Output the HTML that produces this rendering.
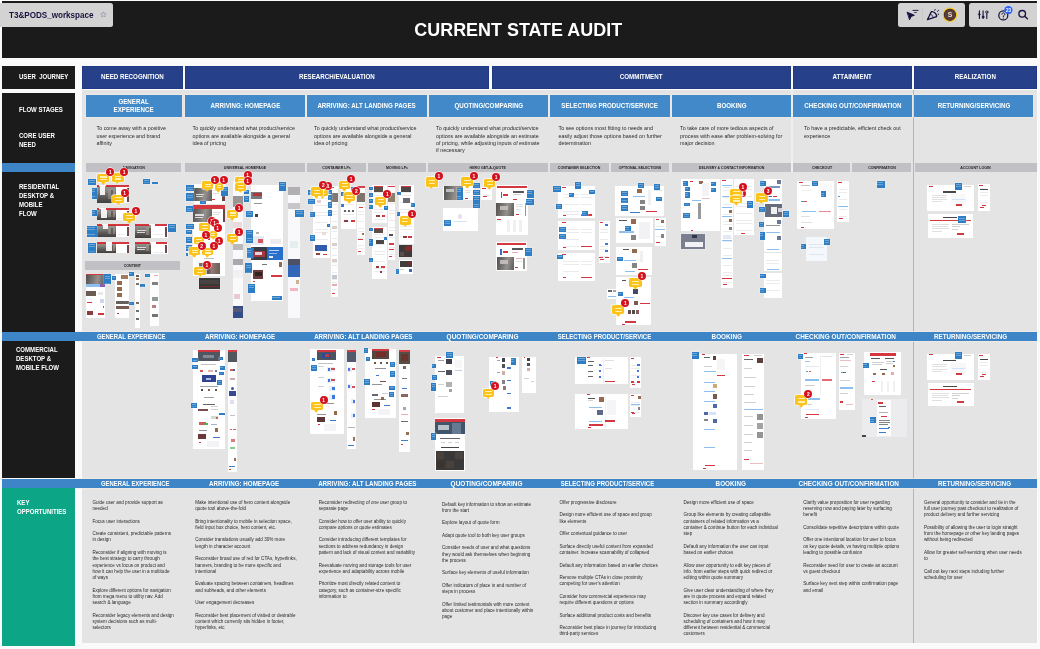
<!DOCTYPE html>
<html lang="en"><head><meta charset="utf-8"><title>Current State Audit</title>
<style>
html,body{margin:0;padding:0;background:#fbfafa;}
body{width:1040px;height:649px;overflow:hidden;font-family:"Liberation Sans",sans-serif;}
#root{position:relative;width:1040px;height:649px;overflow:hidden;background:#fbfafa;}
#root div,#root span.a{position:absolute;box-sizing:border-box;}
.c{display:flex;align-items:center;justify-content:center;text-align:center;white-space:nowrap;}
.h1{color:#fff;font-weight:bold;font-size:7px;line-height:8px;}
.h1 span{display:inline-block;transform:scaleX(.885);}
.h2{color:#fff;font-weight:bold;font-size:7px;line-height:7.6px;}
.h2 span{display:inline-block;transform:scaleX(.885);}
.band{color:#fff;font-weight:bold;font-size:6.6px;line-height:9px;}
.band span{display:inline-block;transform:scaleX(.9);}
.sub{color:#1d1d1f;font-weight:bold;font-size:3.9px;line-height:9px;}
.sub span{display:inline-block;transform:scaleX(.92);}
.lab{color:#fff;font-weight:bold;font-size:6.5px;line-height:9.15px;white-space:nowrap;transform-origin:0 0;transform:scaleX(.93);}
.need{color:#2a2a2a;font-size:5.36px;line-height:7.3px;white-space:nowrap;}
.opp{color:#2a2a2a;font-size:4.6px;line-height:6.27px;white-space:nowrap;}
.th{background:#fff;overflow:hidden;}
.th>div{opacity:.9;}
.nt{background-color:#2e7ec6;box-shadow:0 0 0 .35px rgba(255,255,255,.55);background-image:repeating-linear-gradient(180deg,rgba(255,255,255,0) 0,rgba(255,255,255,0) 1.1px,rgba(255,255,255,.3) 1.1px,rgba(255,255,255,.3) 1.7px,rgba(255,255,255,0) 1.7px,rgba(255,255,255,0) 2.3px);background-size:calc(100% - 1.6px) calc(100% - 1.4px);background-position:.8px .2px;background-repeat:no-repeat;}
.bb{background:#fcc41b;border-radius:1.6px;box-shadow:0 0 0 .8px rgba(255,255,255,.75);}
.bb i{position:absolute;left:24%;right:20%;height:1.15px;background:#fff0b8;border-radius:.5px;}
.bb b{position:absolute;left:calc(50% - 1.5px);bottom:-1.15px;width:2.5px;height:2.5px;background:#fcc41b;transform:rotate(45deg);}
.bg{background:#d3121e;border-radius:50%;color:#fff;font-weight:bold;font-size:4.9px;line-height:9.5px;text-align:center;box-shadow:0 0 0 .7px rgba(255,255,255,.8);}
</style></head>
<body>
<div id="root">
<!-- frame -->
<div style="left:2.3px;top:1.0px;width:1035.0px;height:56.6px;background:#1b1b1b;"></div>
<div style="left:2.3px;top:66.2px;width:72.8px;height:22.4px;background:#1b1b1b;"></div>
<div style="left:2.3px;top:92.7px;width:72.8px;height:385.8px;background:#1b1b1b;"></div>
<div style="left:2.3px;top:162.8px;width:72.8px;height:9.2px;background:#3d85c6;"></div>
<div style="left:2.3px;top:488.0px;width:72.8px;height:157.8px;background:#0ca586;"></div>
<div class="c h1" style="left:82.2px;top:66.2px;width:100.5px;height:22.5px;background:#26418a;box-shadow:inset 0 0 0 .6px #1e3482;"><span>NEED RECOGNITION</span></div>
<div class="c h1" style="left:184.6px;top:66.2px;width:304.3px;height:22.5px;background:#26418a;box-shadow:inset 0 0 0 .6px #1e3482;"><span>RESEARCH/EVALUATION</span></div>
<div class="c h1" style="left:491.9px;top:66.2px;width:298.9px;height:22.5px;background:#26418a;box-shadow:inset 0 0 0 .6px #1e3482;"><span>COMMITMENT</span></div>
<div class="c h1" style="left:793.0px;top:66.2px;width:119.0px;height:22.5px;background:#26418a;box-shadow:inset 0 0 0 .6px #1e3482;"><span>ATTAINMENT</span></div>
<div class="c h1" style="left:914.0px;top:66.2px;width:123.2px;height:22.5px;background:#26418a;box-shadow:inset 0 0 0 .6px #1e3482;"><span>REALIZATION</span></div>
<div style="left:82.2px;top:90.4px;width:955.0px;height:552.6px;background:#e4e4e4;"></div>
<div style="left:791.0px;top:90.4px;width:1.8px;height:81.6px;background:#f0eeee;"></div>
<div style="left:913.0px;top:90.4px;width:1.3px;height:552.6px;background:#b4b4b6;"></div>
<div class="c h2" style="left:86.0px;top:94.9px;width:95.5px;height:22.3px;background:#4189c8;box-shadow:0 0 0 .6px #f3ece4;"><span>GENERAL<br>EXPERIENCE</span></div>
<div class="c h2" style="left:185.4px;top:94.9px;width:119.7px;height:22.3px;background:#4189c8;box-shadow:0 0 0 .6px #f3ece4;"><span>ARRIVING: HOMEPAGE</span></div>
<div class="c h2" style="left:307.2px;top:94.9px;width:119.4px;height:22.3px;background:#4189c8;box-shadow:0 0 0 .6px #f3ece4;"><span>ARRIVING: ALT LANDING PAGES</span></div>
<div class="c h2" style="left:428.9px;top:94.9px;width:119.3px;height:22.3px;background:#4189c8;box-shadow:0 0 0 .6px #f3ece4;"><span>QUOTING/COMPARING</span></div>
<div class="c h2" style="left:550.3px;top:94.9px;width:119.4px;height:22.3px;background:#4189c8;box-shadow:0 0 0 .6px #f3ece4;"><span>SELECTING PRODUCT/SERVICE</span></div>
<div class="c h2" style="left:671.8px;top:94.9px;width:119.0px;height:22.3px;background:#4189c8;box-shadow:0 0 0 .6px #f3ece4;"><span>BOOKING</span></div>
<div class="c h2" style="left:793.0px;top:94.9px;width:119.0px;height:22.3px;background:#4189c8;box-shadow:0 0 0 .6px #f3ece4;"><span>CHECKING OUT/CONFIRMATION</span></div>
<div class="c h2" style="left:914.3px;top:94.9px;width:119.1px;height:22.3px;background:#4189c8;box-shadow:0 0 0 .6px #f3ece4;"><span>RETURNING/SERVICING</span></div>
<div class="c sub" style="left:85.9px;top:162.8px;width:95.1px;height:9.0px;background:#c1c1c5;"><span>NAVIGATION</span></div>
<div class="c sub" style="left:184.5px;top:162.8px;width:120.0px;height:9.0px;background:#c1c1c5;"><span>UNIVERSAL HOMEPAGE</span></div>
<div class="c sub" style="left:306.9px;top:162.8px;width:59.1px;height:9.0px;background:#c1c1c5;"><span>CONTAINER LPs</span></div>
<div class="c sub" style="left:368.0px;top:162.8px;width:58.0px;height:9.0px;background:#c1c1c5;"><span>MOVING LPs</span></div>
<div class="c sub" style="left:428.4px;top:162.8px;width:119.4px;height:9.0px;background:#c1c1c5;"><span>HERO GET-A-QUOTE</span></div>
<div class="c sub" style="left:549.9px;top:162.8px;width:58.8px;height:9.0px;background:#c1c1c5;"><span>CONTAINER SELECTION</span></div>
<div class="c sub" style="left:610.8px;top:162.8px;width:58.0px;height:9.0px;background:#c1c1c5;"><span>OPTIONAL SELECTIONS</span></div>
<div class="c sub" style="left:671.7px;top:162.8px;width:119.0px;height:9.0px;background:#c1c1c5;"><span>DELIVERY &amp; CONTACT INFORMATION</span></div>
<div class="c sub" style="left:792.8px;top:162.8px;width:57.5px;height:9.0px;background:#c1c1c5;"><span>CHECKOUT</span></div>
<div class="c sub" style="left:852.3px;top:162.8px;width:58.9px;height:9.0px;background:#c1c1c5;"><span>CONFIRMATION</span></div>
<div class="c sub" style="left:914.5px;top:162.8px;width:122.5px;height:9.0px;background:#c1c1c5;"><span>ACCOUNT LOGIN</span></div>
<div class="c sub" style="left:85.0px;top:261.2px;width:94.9px;height:9.3px;background:#c1c1c5;"><span>CONTENT</span></div>
<div style="left:2.3px;top:331.8px;width:72.8px;height:9.2px;background:#3d85c6;"></div>
<div style="left:75.1px;top:331.8px;width:962.1px;height:9.2px;background:#3d85c6;box-shadow:0 -0.7px 0 #f3ece4,0 .7px 0 #f3ece4;"></div>
<div class="c band" style="left:51.2px;top:331.8px;width:160.0px;height:9.2px;"><span style="transform:scaleX(0.896)">GENERAL EXPERIENCE</span></div>
<div class="c band" style="left:160.6px;top:331.8px;width:160.0px;height:9.2px;"><span style="transform:scaleX(0.945)">ARRIVING: HOMEPAGE</span></div>
<div class="c band" style="left:283.4px;top:331.8px;width:160.0px;height:9.2px;"><span style="transform:scaleX(0.940)">ARRIVING: ALT LANDING PAGES</span></div>
<div class="c band" style="left:403.0px;top:331.8px;width:160.0px;height:9.2px;"><span style="transform:scaleX(0.983)">QUOTING/COMPARING</span></div>
<div class="c band" style="left:524.0px;top:331.8px;width:160.0px;height:9.2px;"><span style="transform:scaleX(0.910)">SELECTING PRODUCT/SERVICE</span></div>
<div class="c band" style="left:646.9px;top:331.8px;width:160.0px;height:9.2px;"><span style="transform:scaleX(0.961)">BOOKING</span></div>
<div class="c band" style="left:765.5px;top:331.8px;width:160.0px;height:9.2px;"><span style="transform:scaleX(0.970)">CHECKING OUT/CONFIRMATION</span></div>
<div class="c band" style="left:890.6px;top:331.8px;width:160.0px;height:9.2px;"><span style="transform:scaleX(0.949)">RETURNING/SERVICING</span></div>
<div style="left:2.3px;top:478.6px;width:72.8px;height:9.4px;background:#3d85c6;"></div>
<div style="left:75.1px;top:478.6px;width:962.1px;height:9.4px;background:#3d85c6;box-shadow:0 -0.7px 0 #f3ece4,0 .7px 0 #f3ece4;"></div>
<div class="c band" style="left:54.8px;top:478.6px;width:160.0px;height:9.4px;"><span style="transform:scaleX(0.896)">GENERAL EXPERIENCE</span></div>
<div class="c band" style="left:164.2px;top:478.6px;width:160.0px;height:9.4px;"><span style="transform:scaleX(0.945)">ARRIVING: HOMEPAGE</span></div>
<div class="c band" style="left:287.0px;top:478.6px;width:160.0px;height:9.4px;"><span style="transform:scaleX(0.940)">ARRIVING: ALT LANDING PAGES</span></div>
<div class="c band" style="left:406.6px;top:478.6px;width:160.0px;height:9.4px;"><span style="transform:scaleX(0.983)">QUOTING/COMPARING</span></div>
<div class="c band" style="left:527.6px;top:478.6px;width:160.0px;height:9.4px;"><span style="transform:scaleX(0.910)">SELECTING PRODUCT/SERVICE</span></div>
<div class="c band" style="left:650.5px;top:478.6px;width:160.0px;height:9.4px;"><span style="transform:scaleX(0.961)">BOOKING</span></div>
<div class="c band" style="left:769.1px;top:478.6px;width:160.0px;height:9.4px;"><span style="transform:scaleX(0.970)">CHECKING OUT/CONFIRMATION</span></div>
<div class="c band" style="left:894.2px;top:478.6px;width:160.0px;height:9.4px;"><span style="transform:scaleX(0.949)">RETURNING/SERVICING</span></div>
<div class="lab" style="left:19.1px;top:72.4px">USER&nbsp; JOURNEY</div>
<div class="lab" style="left:19.1px;top:104.6px">FLOW STAGES</div>
<div class="lab" style="left:19.1px;top:130.5px">CORE USER<br>NEED</div>
<div class="lab" style="left:19.1px;top:182px">RESIDENTIAL<br>DESKTOP &amp;<br>MOBILE<br>FLOW</div>
<div class="lab" style="left:16.2px;top:345px">COMMERCIAL<br>DESKTOP &amp;<br>MOBILE FLOW</div>
<div class="lab" style="left:16.5px;top:497.7px">KEY<br>OPPORTUNITIES</div>
<!-- header -->
<div class="c" style="left:318px;top:18px;width:400px;height:23px;color:#fff;font-weight:bold;font-size:19.2px;line-height:23px"><span style="display:inline-block;transform:scaleX(.934)">CURRENT STATE AUDIT</span></div>
<div style="left:0;top:2.8px;width:113.2px;height:23.8px;background:#d3d3d3;border-radius:0 2.5px 2.5px 0"></div>
<div style="left:9.2px;top:9.7px;font-weight:bold;font-size:8.35px;line-height:11px;color:#17123f;white-space:nowrap;transform-origin:0 0;transform:scaleX(.97)">T3&amp;PODS_workspace</div>
<svg class="a" style="position:absolute;left:99.8px;top:11.3px" width="6.8" height="6.8" viewBox="0 0 24 24"><path d="M12 2.6l2.9 6.2 6.7.8-5 4.6 1.4 6.7L12 17.5 6 20.9l1.4-6.7-5-4.6 6.7-.8z" fill="none" stroke="#8a8aa6" stroke-width="2.2" stroke-linejoin="round"/></svg>
<div style="left:897.9px;top:2.9px;width:67.2px;height:23.8px;background:#d2d2d2;border-radius:2.5px"></div>
<div style="left:969px;top:2.9px;width:71px;height:23.8px;background:#d2d2d2;border-radius:2.5px 0 0 2.5px"></div>
<div style="left:1037.3px;top:0;width:3px;height:60px;background:#fbfafa"></div>
<svg style="position:absolute;left:897px;top:0" width="143" height="30" viewBox="897 0 143 30">
<g fill="none" stroke="#17123f" stroke-width="1.2" stroke-linecap="round" stroke-linejoin="round">
<path d="M907.4 12.3l7 2.9-3.2 1.3-1.5 3z" fill="#17123f" stroke-width=".9"/>
<path d="M913 10.4h5.1" stroke-width=".95"/><path d="M914.6 12.5h1.7" stroke-width=".8"/>
<path d="M922.4 8.8v11.4" stroke="#c0c0c9" stroke-width=".7"/>
<path d="M931.4 11.6c2.4-.6 5.6 2.6 5.2 5l-9.2 3.1z" stroke-width="1.25"/>
<path d="M930.2 14.2c1.2 0 2.6 1.4 2.7 2.7" stroke-width=".8"/>
<path d="M934.7 10.3l.5-.9M937.6 11.4l.9-1.2M938.2 14.2h.5" stroke-width="1"/>
<path d="M979.4 10.9v7.6M983.1 10.9v7.6M986.8 13.5v5" stroke-width="1.1"/>
<path d="M979.4 13.3l1.1 1.2-1.1 1.2-1.1-1.2z" fill="#17123f" stroke-width=".5"/>
<circle cx="983.1" cy="17" r="1.05" fill="#17123f" stroke-width=".5"/>
<circle cx="986.8" cy="12.1" r="1.15" stroke-width=".9"/>
<circle cx="1003.3" cy="15.4" r="4.5" stroke-width="1.25"/>
<path d="M1001.9 14.2a1.45 1.45 0 1 1 2.2 1.3c-.6.3-.8.6-.8 1.1" stroke-width="1"/><path d="M1003.3 18v.1" stroke-width="1.1"/>
<circle cx="1022.2" cy="13.8" r="3.3" stroke-width="1.35"/>
<path d="M1024.7 16.3l2.7 2.4" stroke-width="1.4"/>
</g>
<circle cx="949.9" cy="14.8" r="7.2" fill="#f5c91c"/><circle cx="949.9" cy="14.8" r="6.1" fill="#2a1c3a"/><circle cx="949.9" cy="14.8" r="5.6" fill="#5a3c36"/>
<text x="949.9" y="17.2" font-family="Liberation Sans, sans-serif" font-size="6.8" font-weight="bold" fill="#e9dcd8" text-anchor="middle">S</text>
<circle cx="1008.4" cy="10.1" r="4.15" fill="#2b63f6"/>
<text x="1008.4" y="11.7" font-family="Liberation Sans, sans-serif" font-size="4.5" font-weight="bold" fill="#fff" text-anchor="middle">23</text>
</svg>
<!-- thumbnails -->
<div id="thumbs" style="left:0;top:0;width:1040px;height:649px;filter:blur(.55px)"><div class="th" style="left:96.9px;top:184.8px;width:32.2px;height:17.9px;background:#fff;"><div style="left:0.0px;top:1.2px;width:18.7px;height:16.7px;background:linear-gradient(180deg,#8f8c88 0%,#77746f 30%,#4d4a48 62%,#2c2a29 100%)"></div><div style="left:10.9px;top:3.9px;width:7.7px;height:10.0px;background:#a09d98;opacity:.55"></div><div style="left:14.2px;top:5.4px;width:1.9px;height:11.6px;background:#5a4a44;opacity:.7"></div><div style="left:2.9px;top:0.0px;width:5.5px;height:10.7px;background:#fff;"></div><div style="left:0.0px;top:0.3px;width:2.6px;height:2.0px;background:#d0212b;"></div><div style="left:8.7px;top:0.5px;width:23.5px;height:2.1px;background:#d0212b;"></div><div style="left:20.7px;top:5.0px;width:7.5px;height:11.9px;background-image:repeating-linear-gradient(180deg,rgba(0,0,0,0) 0,rgba(0,0,0,0) 1.6px,rgba(120,120,135,.16) 1.6px,rgba(120,120,135,.16) 2.2px,rgba(0,0,0,0) 2.2px,rgba(0,0,0,0) 3.4px);"></div><div style="left:29.9px;top:3.0px;width:1.9px;height:14.4px;background:#5e3638;"></div></div>
<div class="th" style="left:96.9px;top:207.9px;width:32.2px;height:12.1px;background:#fff;"><div style="left:0.0px;top:1.2px;width:18.7px;height:10.9px;background:linear-gradient(180deg,#8f8c88 0%,#77746f 30%,#4d4a48 62%,#2c2a29 100%)"></div><div style="left:10.9px;top:2.7px;width:7.7px;height:6.8px;background:#a09d98;opacity:.55"></div><div style="left:14.2px;top:3.6px;width:1.9px;height:7.9px;background:#5a4a44;opacity:.7"></div><div style="left:3.9px;top:0.0px;width:5.8px;height:9.7px;background:#fff;"></div><div style="left:0.0px;top:0.3px;width:2.6px;height:2.0px;background:#d0212b;"></div><div style="left:8.7px;top:0.5px;width:23.5px;height:2.1px;background:#d0212b;"></div><div style="left:20.7px;top:5.0px;width:7.5px;height:6.1px;background-image:repeating-linear-gradient(180deg,rgba(0,0,0,0) 0,rgba(0,0,0,0) 1.6px,rgba(120,120,135,.16) 1.6px,rgba(120,120,135,.16) 2.2px,rgba(0,0,0,0) 2.2px,rgba(0,0,0,0) 3.4px);"></div><div style="left:29.9px;top:3.0px;width:1.9px;height:8.6px;background:#5e3638;"></div></div>
<div class="th" style="left:96.9px;top:223.6px;width:32.2px;height:13.4px;background:#fff;"><div style="left:0.0px;top:1.2px;width:18.7px;height:12.2px;background:linear-gradient(180deg,#8f8c88 0%,#77746f 30%,#4d4a48 62%,#2c2a29 100%)"></div><div style="left:10.9px;top:2.9px;width:7.7px;height:7.5px;background:#a09d98;opacity:.55"></div><div style="left:14.2px;top:4.0px;width:1.9px;height:8.7px;background:#5a4a44;opacity:.7"></div><div style="left:6.4px;top:0.0px;width:5.2px;height:5.6px;background:#fff;"></div><div style="left:0.0px;top:0.3px;width:5.5px;height:2.0px;background:#d0212b;"></div><div style="left:11.6px;top:0.5px;width:20.6px;height:2.1px;background:#d0212b;"></div><div style="left:20.7px;top:5.0px;width:7.5px;height:7.4px;background-image:repeating-linear-gradient(180deg,rgba(0,0,0,0) 0,rgba(0,0,0,0) 1.6px,rgba(120,120,135,.16) 1.6px,rgba(120,120,135,.16) 2.2px,rgba(0,0,0,0) 2.2px,rgba(0,0,0,0) 3.4px);"></div><div style="left:29.9px;top:3.0px;width:1.9px;height:9.9px;background:#5e3638;"></div></div>
<div class="th" style="left:135.1px;top:223.6px;width:32.5px;height:14.2px;background:#fff;"><div style="left:0.0px;top:1.2px;width:16.2px;height:13.0px;background:linear-gradient(180deg,#8f8c88 0%,#77746f 30%,#4d4a48 62%,#2c2a29 100%)"></div><div style="left:11.1px;top:3.1px;width:5.2px;height:8.0px;background:#a09d98;opacity:.55"></div><div style="left:14.3px;top:4.3px;width:1.9px;height:9.2px;background:#5a4a44;opacity:.7"></div><div style="left:1.6px;top:6.0px;width:9.4px;height:1.4px;background:#e6e6e6;"></div><div style="left:1.6px;top:8.2px;width:8.1px;height:1.4px;background:#e6e6e6;"></div><div style="left:0.0px;top:0.3px;width:14.0px;height:2.0px;background:#d0212b;"></div><div style="left:19.5px;top:0.5px;width:12.0px;height:2.1px;background:#d0212b;"></div><div style="left:18.2px;top:5.0px;width:10.2px;height:8.2px;background-image:repeating-linear-gradient(180deg,rgba(0,0,0,0) 0,rgba(0,0,0,0) 1.6px,rgba(120,120,135,.16) 1.6px,rgba(120,120,135,.16) 2.2px,rgba(0,0,0,0) 2.2px,rgba(0,0,0,0) 3.4px);"></div><div style="left:30.2px;top:3.0px;width:1.9px;height:10.7px;background:#5e3638;"></div></div>
<div class="th" style="left:96.9px;top:241.7px;width:32.2px;height:11.8px;background:#fff;"><div style="left:0.0px;top:1.2px;width:18.7px;height:10.6px;background:linear-gradient(180deg,#8f8c88 0%,#77746f 30%,#4d4a48 62%,#2c2a29 100%)"></div><div style="left:10.9px;top:2.6px;width:7.7px;height:6.6px;background:#a09d98;opacity:.55"></div><div style="left:14.2px;top:3.5px;width:1.9px;height:7.7px;background:#5a4a44;opacity:.7"></div><div style="left:9.3px;top:0.0px;width:5.5px;height:9.4px;background:#fff;"></div><div style="left:0.0px;top:0.3px;width:8.7px;height:2.0px;background:#d0212b;"></div><div style="left:14.8px;top:0.5px;width:17.4px;height:2.1px;background:#d0212b;"></div><div style="left:20.7px;top:5.0px;width:7.5px;height:5.8px;background-image:repeating-linear-gradient(180deg,rgba(0,0,0,0) 0,rgba(0,0,0,0) 1.6px,rgba(120,120,135,.16) 1.6px,rgba(120,120,135,.16) 2.2px,rgba(0,0,0,0) 2.2px,rgba(0,0,0,0) 3.4px);"></div><div style="left:29.9px;top:3.0px;width:1.9px;height:8.3px;background:#5e3638;"></div></div>
<div class="th" style="left:135.1px;top:241.7px;width:32.5px;height:12.3px;background:#fff;"><div style="left:0.0px;top:1.2px;width:16.2px;height:11.1px;background:linear-gradient(180deg,#8f8c88 0%,#77746f 30%,#4d4a48 62%,#2c2a29 100%)"></div><div style="left:11.1px;top:2.7px;width:5.2px;height:6.9px;background:#a09d98;opacity:.55"></div><div style="left:14.3px;top:3.7px;width:1.9px;height:8.0px;background:#5a4a44;opacity:.7"></div><div style="left:1.6px;top:5.2px;width:9.4px;height:1.2px;background:#e6e6e6;"></div><div style="left:1.6px;top:7.1px;width:8.1px;height:1.2px;background:#e6e6e6;"></div><div style="left:0.0px;top:0.3px;width:15.0px;height:2.0px;background:#d0212b;"></div><div style="left:20.5px;top:0.5px;width:11.0px;height:2.1px;background:#d0212b;"></div><div style="left:18.2px;top:5.0px;width:10.2px;height:6.3px;background-image:repeating-linear-gradient(180deg,rgba(0,0,0,0) 0,rgba(0,0,0,0) 1.6px,rgba(120,120,135,.16) 1.6px,rgba(120,120,135,.16) 2.2px,rgba(0,0,0,0) 2.2px,rgba(0,0,0,0) 3.4px);"></div><div style="left:30.2px;top:3.0px;width:1.9px;height:8.8px;background:#5e3638;"></div></div>
<div class="th" style="left:85.9px;top:273.7px;width:19.0px;height:44.0px;background:#fff;"><div style="left:0.0px;top:0.0px;width:19.0px;height:1.6px;background:#d0212b;"></div><div style="left:0.0px;top:1.6px;width:19.0px;height:8.3px;background:linear-gradient(100deg,#3f3d3c 0%,#6e6b68 40%,#8a8682 60%,#4a4846 100%)"></div><div style="left:0.0px;top:10.5px;width:14.1px;height:3.0px;background:#7fb8ec;"></div><div style="left:14.1px;top:10.5px;width:4.9px;height:3.0px;background:#7a4aa8;"></div><div style="left:0.6px;top:17.3px;width:9.5px;height:5.0px;background:#5a4a42;"></div><div style="left:12.1px;top:18.3px;width:5.0px;height:3.0px;background:#e4e4ea;"></div><div style="left:1.1px;top:28.3px;width:5.0px;height:1.4px;background:#d0212b;"></div><div style="left:14.1px;top:25.3px;width:4.0px;height:4.0px;background:#c9d3ee;"></div><div style="left:17.1px;top:32.3px;width:1.5px;height:2.5px;background:#8a5a3c;"></div><div style="left:1.1px;top:37.3px;width:6.0px;height:4.0px;background:#7a2a2a;"></div><div style="left:12.1px;top:39.3px;width:6.0px;height:1.6px;background:#d0212b;"></div></div>
<div class="th" style="left:115.0px;top:273.7px;width:14.2px;height:44.0px;background:#fff;"><div style="left:6.0px;top:1.8px;width:6.5px;height:4.0px;background:#9a6a4a;"></div><div style="left:1.5px;top:7.3px;width:5.5px;height:4.5px;background:#8a5a3c;"></div><div style="left:1.5px;top:13.8px;width:5.5px;height:4.0px;background:#8a5a3c;"></div><div style="left:1.5px;top:19.3px;width:5.5px;height:4.5px;background:#8a5a3c;"></div><div style="left:1.0px;top:27.8px;width:12.5px;height:2.5px;background:#56504a;"></div><div style="left:1.0px;top:32.8px;width:12.5px;height:2.5px;background:#6a4a44;"></div><div style="left:2.0px;top:39.3px;width:2.0px;height:1.0px;background:#d0212b;"></div></div>
<div class="th" style="left:135.4px;top:273.7px;width:4.9px;height:54.1px;background:#fff;opacity:.95;"><div style="left:1.0px;top:1.3px;width:2.9px;height:2.0px;background:#444;"></div><div style="left:1.0px;top:4.8px;width:2.9px;height:1.5px;background:#8a5a3c;"></div><div style="left:1.0px;top:9.3px;width:2.9px;height:2.0px;background:#6a5a4a;"></div><div style="left:1.0px;top:28.3px;width:2.9px;height:2.0px;background:#6a5a4a;"></div><div style="left:1.0px;top:36.3px;width:2.9px;height:2.0px;background:#5a5a5a;"></div><div style="left:1.0px;top:44.3px;width:2.9px;height:2.0px;background:#4a5a4a;"></div></div>
<div class="th" style="left:150.0px;top:273.0px;width:9.0px;height:53.0px;background:#fff;opacity:.92;"><div style="left:3.5px;top:1.5px;width:4.0px;height:1.8px;background:#e0a0a0;"></div><div style="left:1.5px;top:8.5px;width:6.0px;height:3.5px;background:#6a6a66;"></div><div style="left:1.5px;top:24.0px;width:6.0px;height:3.5px;background:#7a8a86;"></div><div style="left:2.0px;top:32.0px;width:4.0px;height:2.5px;background:#a86a6a;"></div><div style="left:1.5px;top:40.5px;width:6.0px;height:3.5px;background:#5a5a5e;"></div></div>
<div class="th" style="left:194.3px;top:184.0px;width:31.2px;height:19.5px;background:#fff;"><div style="left:0.0px;top:4.3px;width:17.4px;height:13.0px;background:linear-gradient(100deg,#3f3d3c 0%,#6e6b68 40%,#8a8682 60%,#4a4846 100%)"></div><div style="left:1.7px;top:9.5px;width:8.0px;height:1.1px;background:#e8e8e8;"></div><div style="left:1.7px;top:12.0px;width:7.0px;height:1.1px;background:#e8e8e8;"></div><div style="left:19.2px;top:6.0px;width:7.5px;height:0.8px;background:#ddd;"></div><div style="left:19.2px;top:8.5px;width:5.5px;height:0.8px;background:#ddd;"></div><div style="left:18.2px;top:14.6px;width:3.0px;height:1.0px;background:#d0212b;"></div><div style="left:28.2px;top:6.0px;width:2.5px;height:11.0px;background:#5a3030;"></div></div>
<div class="th" style="left:193.3px;top:205.4px;width:32.2px;height:70.6px;background:#fff;"><div style="left:0.0px;top:0.0px;width:32.2px;height:3.2px;background:#d0212b;"></div><div style="left:0.0px;top:3.4px;width:18.4px;height:13.5px;background:linear-gradient(100deg,#3f3d3c 0%,#6e6b68 40%,#8a8682 60%,#4a4846 100%)"></div><div style="left:1.7px;top:9.1px;width:9.0px;height:1.2px;background:#e8e8e8;"></div><div style="left:1.7px;top:11.8px;width:8.0px;height:1.2px;background:#e8e8e8;"></div><div style="left:29.7px;top:3.6px;width:2.2px;height:13.0px;background:#5a3030;"></div><div style="left:20.2px;top:6.6px;width:7.5px;height:0.8px;background:#ddd;"></div><div style="left:20.2px;top:9.1px;width:5.5px;height:0.8px;background:#ddd;"></div><div style="left:5.5px;top:57.3px;width:21.0px;height:11.7px;background:linear-gradient(90deg,#6a6462 0%,#4a4442 45%,#8a6a62 60%,#5a4a46 100%)"></div><div style="left:10.7px;top:53.1px;width:10.0px;height:0.9px;background:#bbb;"></div><div style="left:14.7px;top:30.6px;width:2.0px;height:4.0px;background:#d0212b;"></div></div>
<div class="th" style="left:198.8px;top:278.0px;width:21.6px;height:11.0px;background:#fff;box-shadow:0 0 0 .5px #eee;"><div style="left:0.0px;top:0.0px;width:21.6px;height:11.0px;background:#242222;"></div><div style="left:1.7px;top:1.5px;width:18.2px;height:4.5px;background:#4a4444;"></div><div style="left:1.7px;top:7.6px;width:18.2px;height:0.8px;background:#7a2a2a;"></div></div>
<div class="th" style="left:232.7px;top:181.0px;width:10.2px;height:137.3px;background:#fafafc;filter:blur(.6px);"><div style="left:0.0px;top:15.0px;width:10.2px;height:11.0px;background:#8d8a88;"></div><div style="left:0.3px;top:41.0px;width:9.5px;height:6.0px;background:#e9d6d8;"></div><div style="left:0.0px;top:62.5px;width:10.2px;height:6.5px;background:#b0b0b6;"></div><div style="left:0.0px;top:78.0px;width:10.2px;height:5.5px;background:#a29ea6;"></div><div style="left:0.0px;top:89.0px;width:10.2px;height:8.0px;background:#efeff3;"></div><div style="left:1.8px;top:113.0px;width:6.0px;height:4.5px;background:#e6c6cc;"></div><div style="left:0.0px;top:124.9px;width:10.2px;height:12.4px;background:#1d3a7c;"></div><div style="left:0.8px;top:127.0px;width:8.5px;height:4.0px;background:#5a5a7a;"></div></div>
<div class="th" style="left:250.8px;top:184.6px;width:32.2px;height:116.2px;background:#fff;"><div style="left:0.7px;top:7.4px;width:10.5px;height:7.5px;background:#6a6a70;"></div><div style="left:2.2px;top:8.4px;width:9.0px;height:3.0px;background:#b03038;"></div><div style="left:3.2px;top:18.4px;width:8.0px;height:1.0px;background:#888;"></div><div style="left:4.2px;top:29.9px;width:3.0px;height:3.0px;background:#2a2a33;"></div><div style="left:5.2px;top:47.4px;width:3.0px;height:2.0px;background:#aaa;"></div><div style="left:0.2px;top:51.9px;width:13.0px;height:8.5px;background:#e4e8f0;"></div><div style="left:7.2px;top:54.9px;width:5.0px;height:3.5px;background:#cc4a54;"></div><div style="left:19.2px;top:54.4px;width:11.0px;height:5.0px;background:#e8e8ee;"></div><div style="left:0.0px;top:62.0px;width:16.2px;height:13.6px;background:#1d2733;"></div><div style="left:3.2px;top:66.4px;width:11.0px;height:6.0px;background:#b8343c;"></div><div style="left:4.2px;top:67.9px;width:7.0px;height:3.0px;background:#e8e8f0;"></div><div style="left:16.2px;top:62.0px;width:16.0px;height:13.6px;background:#0f5fc4;"></div><div style="left:18.2px;top:65.4px;width:10.0px;height:1.2px;background:#cfe0f8;"></div><div style="left:18.2px;top:68.4px;width:8.0px;height:1.0px;background:#9fc0ee;"></div><div style="left:18.2px;top:71.4px;width:4.0px;height:1.6px;background:#fff;"></div><div style="left:11.2px;top:79.9px;width:5.5px;height:1.0px;background:#666;"></div><div style="left:28.7px;top:77.9px;width:3.0px;height:4.5px;background:#8a5a3c;"></div><div style="left:2.2px;top:85.4px;width:10.5px;height:8.8px;background:#5a2626;"></div><div style="left:4.2px;top:87.4px;width:7.0px;height:4.0px;background:#2a2020;"></div><div style="left:20.2px;top:90.2px;width:10.6px;height:2.1px;background:#d0212b;"></div><div style="left:2.2px;top:96.4px;width:2.5px;height:1.0px;background:#d0212b;"></div></div>
<div class="th" style="left:288.3px;top:186.6px;width:11.8px;height:131.8px;background:#f9f9fb;filter:blur(.6px);"><div style="left:0.0px;top:0.0px;width:11.8px;height:8.4px;background:#a8a6a8;"></div><div style="left:0.0px;top:16.4px;width:11.8px;height:6.0px;background:#c2c0c4;"></div><div style="left:1.7px;top:54.4px;width:8.5px;height:7.0px;background:#e0ecec;"></div><div style="left:0.0px;top:72.4px;width:11.8px;height:6.0px;background:#3a3e52;"></div><div style="left:0.0px;top:78.4px;width:11.8px;height:11.6px;background:#1c55b0;"></div><div style="left:7.7px;top:93.9px;width:3.5px;height:3.5px;background:#c8a888;"></div><div style="left:1.3px;top:101.0px;width:8.8px;height:3.6px;background:#f0b0ba;"></div></div>
<div class="th" style="left:312.5px;top:188.3px;width:17.5px;height:70.1px;background:#fff;"><div style="left:2.1px;top:2.0px;width:13.3px;height:66.1px;background-image:repeating-linear-gradient(180deg,rgba(0,0,0,0) 0,rgba(0,0,0,0) 1.6px,rgba(120,120,135,.16) 1.6px,rgba(120,120,135,.16) 2.2px,rgba(0,0,0,0) 2.2px,rgba(0,0,0,0) 3.4px);"></div><div style="left:2.7px;top:56.9px;width:12.2px;height:6.1px;background:#1c4aa6;"></div><div style="left:3.5px;top:65.2px;width:4.0px;height:2.0px;background:#8a2a2a;"></div><div style="left:10.5px;top:65.7px;width:4.0px;height:1.2px;background:#d0212b;"></div><div style="left:4.5px;top:11.7px;width:4.0px;height:3.0px;background:#e8c8c8;"></div><div style="left:9.5px;top:43.7px;width:4.0px;height:3.0px;background:#e8d8d0;"></div></div>
<div class="th" style="left:331.4px;top:186.3px;width:6.7px;height:110.7px;background:#fff;opacity:.93;"><div style="left:0.7px;top:1.0px;width:2.0px;height:0.8px;background:#d0212b;"></div><div style="left:0.8px;top:3.0px;width:5.1px;height:104.7px;background-image:repeating-linear-gradient(180deg,rgba(0,0,0,0) 0,rgba(0,0,0,0) 1.6px,rgba(120,120,135,.16) 1.6px,rgba(120,120,135,.16) 2.2px,rgba(0,0,0,0) 2.2px,rgba(0,0,0,0) 3.4px);"></div><div style="left:1.0px;top:106.7px;width:2.3px;height:1.0px;background:#d0212b;"></div><div style="left:0.0px;top:6.7px;width:6.7px;height:9.0px;background:#6a625c;"></div><div style="left:1.1px;top:39.7px;width:4.5px;height:3.0px;background:#d8c8c0;"></div><div style="left:1.1px;top:56.7px;width:4.5px;height:3.0px;background:#d8c8c8;"></div><div style="left:1.1px;top:72.7px;width:4.5px;height:3.0px;background:#d8c8c0;"></div><div style="left:1.1px;top:88.7px;width:4.5px;height:4.0px;background:#b8c0cc;"></div><div style="left:1.1px;top:97.7px;width:4.5px;height:2.0px;background:#e0a0a0;"></div></div>
<div class="th" style="left:341.0px;top:187.3px;width:15.4px;height:41.7px;background:#fff;"><div style="left:1.8px;top:2.0px;width:11.7px;height:37.7px;background-image:repeating-linear-gradient(180deg,rgba(0,0,0,0) 0,rgba(0,0,0,0) 1.6px,rgba(120,120,135,.16) 1.6px,rgba(120,120,135,.16) 2.2px,rgba(0,0,0,0) 2.2px,rgba(0,0,0,0) 3.4px);"></div><div style="left:3.0px;top:23.2px;width:2.0px;height:2.0px;background:#555;"></div><div style="left:7.0px;top:23.2px;width:2.0px;height:2.0px;background:#555;"></div><div style="left:11.0px;top:23.2px;width:2.0px;height:2.0px;background:#555;"></div><div style="left:2.5px;top:32.7px;width:4.0px;height:2.0px;background:#7a2a2a;"></div><div style="left:9.5px;top:33.0px;width:4.0px;height:1.3px;background:#d0212b;"></div></div>
<div class="th" style="left:357.3px;top:185.9px;width:7.3px;height:69.1px;background:#fff;opacity:.95;"><div style="left:0.7px;top:1.0px;width:2.2px;height:0.8px;background:#d0212b;"></div><div style="left:0.9px;top:3.0px;width:5.5px;height:63.1px;background-image:repeating-linear-gradient(180deg,rgba(0,0,0,0) 0,rgba(0,0,0,0) 1.6px,rgba(120,120,135,.16) 1.6px,rgba(120,120,135,.16) 2.2px,rgba(0,0,0,0) 2.2px,rgba(0,0,0,0) 3.4px);"></div><div style="left:1.1px;top:65.1px;width:2.6px;height:1.0px;background:#d0212b;"></div><div style="left:0.0px;top:0.5px;width:7.3px;height:1.6px;background:#d0212b;"></div><div style="left:0.0px;top:7.1px;width:7.3px;height:9.0px;background:#6a5e56;"></div><div style="left:1.7px;top:21.1px;width:4.0px;height:1.5px;background:#d0212b;"></div><div style="left:4.7px;top:47.1px;width:2.0px;height:2.5px;background:#8a5a3c;"></div><div style="left:1.2px;top:53.1px;width:5.0px;height:1.2px;background:#d0212b;"></div></div>
<div class="th" style="left:372.1px;top:185.3px;width:14.8px;height:37.6px;background:#fff;"><div style="left:1.8px;top:2.0px;width:11.2px;height:33.6px;background-image:repeating-linear-gradient(180deg,rgba(0,0,0,0) 0,rgba(0,0,0,0) 1.6px,rgba(120,120,135,.16) 1.6px,rgba(120,120,135,.16) 2.2px,rgba(0,0,0,0) 2.2px,rgba(0,0,0,0) 3.4px);"></div><div style="left:2.4px;top:0.7px;width:9.0px;height:1.4px;background:#d0212b;"></div><div style="left:2.4px;top:2.1px;width:9.0px;height:4.6px;background:#4a3a36;"></div><div style="left:3.9px;top:29.7px;width:4.0px;height:2.0px;background:#7a2a2a;"></div><div style="left:9.9px;top:30.2px;width:3.5px;height:1.3px;background:#d0212b;"></div></div>
<div class="th" style="left:372.1px;top:226.9px;width:14.8px;height:52.5px;background:#fff;"><div style="left:1.8px;top:2.0px;width:11.2px;height:48.5px;background-image:repeating-linear-gradient(180deg,rgba(0,0,0,0) 0,rgba(0,0,0,0) 1.6px,rgba(120,120,135,.16) 1.6px,rgba(120,120,135,.16) 2.2px,rgba(0,0,0,0) 2.2px,rgba(0,0,0,0) 3.4px);"></div><div style="left:2.4px;top:0.7px;width:9.0px;height:1.4px;background:#d0212b;"></div><div style="left:2.4px;top:2.1px;width:9.0px;height:4.5px;background:#4a3a36;"></div><div style="left:3.9px;top:13.1px;width:8.0px;height:4.5px;background:#3a3232;"></div><div style="left:3.9px;top:39.1px;width:3.5px;height:2.0px;background:#7a2a2a;"></div><div style="left:8.9px;top:39.6px;width:4.5px;height:1.3px;background:#d0212b;"></div><div style="left:7.9px;top:44.1px;width:2.0px;height:2.0px;background:#7a2a2a;"></div></div>
<div class="th" style="left:388.3px;top:185.3px;width:7.2px;height:75.2px;background:#fff;opacity:.95;"><div style="left:0.7px;top:1.0px;width:2.2px;height:0.8px;background:#d0212b;"></div><div style="left:0.9px;top:3.0px;width:5.5px;height:69.2px;background-image:repeating-linear-gradient(180deg,rgba(0,0,0,0) 0,rgba(0,0,0,0) 1.6px,rgba(120,120,135,.16) 1.6px,rgba(120,120,135,.16) 2.2px,rgba(0,0,0,0) 2.2px,rgba(0,0,0,0) 3.4px);"></div><div style="left:1.1px;top:71.2px;width:2.5px;height:1.0px;background:#d0212b;"></div><div style="left:0.0px;top:0.5px;width:7.2px;height:1.6px;background:#d0212b;"></div><div style="left:0.0px;top:7.7px;width:7.2px;height:9.0px;background:#7a6a52;"></div><div style="left:1.2px;top:48.7px;width:4.0px;height:2.5px;background:#3a3232;"></div><div style="left:1.2px;top:58.2px;width:4.5px;height:1.2px;background:#d0212b;"></div><div style="left:1.2px;top:63.7px;width:4.5px;height:1.2px;background:#d0212b;"></div></div>
<div class="th" style="left:398.5px;top:185.3px;width:15.3px;height:58.9px;background:#fff;"><div style="left:1.8px;top:2.0px;width:11.6px;height:54.9px;background-image:repeating-linear-gradient(180deg,rgba(0,0,0,0) 0,rgba(0,0,0,0) 1.6px,rgba(120,120,135,.16) 1.6px,rgba(120,120,135,.16) 2.2px,rgba(0,0,0,0) 2.2px,rgba(0,0,0,0) 3.4px);"></div><div style="left:2.5px;top:0.7px;width:10.0px;height:1.4px;background:#d0212b;"></div><div style="left:2.5px;top:2.1px;width:10.0px;height:4.6px;background:#3a3232;"></div><div style="left:4.5px;top:12.7px;width:7.0px;height:5.0px;background:#5a5a60;"></div><div style="left:4.5px;top:50.7px;width:3.5px;height:2.0px;background:#7a2a2a;"></div><div style="left:9.5px;top:51.2px;width:4.0px;height:1.3px;background:#d0212b;"></div></div>
<div class="th" style="left:399.1px;top:245.2px;width:13.0px;height:12.2px;background:#fff;"><div style="left:0.0px;top:0.0px;width:13.0px;height:12.2px;background:#2a2424;"></div><div style="left:5.9px;top:0.8px;width:6.0px;height:5.0px;background:#8a2a2a;"></div><div style="left:0.9px;top:6.8px;width:4.0px;height:4.0px;background:#5a5252;"></div></div>
<div class="th" style="left:398.5px;top:259.5px;width:14.2px;height:14.2px;background:#fff;"><div style="left:1.0px;top:1.0px;width:12.0px;height:6.0px;background:#2e2828;"></div><div style="left:8.5px;top:2.5px;width:4.0px;height:3.0px;background:#7a2a2a;"></div><div style="left:1.5px;top:9.5px;width:4.0px;height:1.0px;background:#ccc;"></div><div style="left:10.5px;top:9.5px;width:2.5px;height:2.5px;background:#2a5aa8;"></div></div>
<div class="th" style="left:443.3px;top:185.9px;width:30.5px;height:14.6px;background:#fff;"><div style="left:0.6px;top:0.6px;width:18.7px;height:13.3px;background:linear-gradient(100deg,#3f3d3c 0%,#6e6b68 40%,#8a8682 60%,#4a4846 100%)"></div><div style="left:2.7px;top:3.1px;width:8.0px;height:3.0px;background:#c8c8c8;"></div><div style="left:21.7px;top:4.1px;width:6.0px;height:0.8px;background:#ddd;"></div><div style="left:21.7px;top:6.6px;width:5.0px;height:0.8px;background:#ddd;"></div><div style="left:21.7px;top:12.1px;width:3.0px;height:1.0px;background:#d0212b;"></div></div>
<div class="th" style="left:481.3px;top:187.3px;width:10.7px;height:12.8px;background:#fff;"><div style="left:1.1px;top:1.0px;width:3.2px;height:0.8px;background:#d0212b;"></div><div style="left:1.3px;top:3.0px;width:8.1px;height:6.8px;background-image:repeating-linear-gradient(180deg,rgba(0,0,0,0) 0,rgba(0,0,0,0) 1.6px,rgba(120,120,135,.16) 1.6px,rgba(120,120,135,.16) 2.2px,rgba(0,0,0,0) 2.2px,rgba(0,0,0,0) 3.4px);"></div><div style="left:1.6px;top:8.8px;width:3.7px;height:1.0px;background:#d0212b;"></div></div>
<div class="th" style="left:443.3px;top:208.2px;width:34.5px;height:22.4px;background:#fff;"><div style="left:14.7px;top:6.3px;width:4.5px;height:4.5px;background:#e6dcea;border-radius:50%"></div><div style="left:10.7px;top:13.3px;width:13.0px;height:0.8px;background:#cfe0f4;"></div></div>
<div class="th" style="left:495.5px;top:185.3px;width:32.1px;height:49.4px;background:#fff;"><div style="left:1.0px;top:0.9px;width:30.1px;height:1.4px;background:#d0212b;"></div><div style="left:5.0px;top:6.7px;width:1.5px;height:6.0px;background:#2a5ac0;"></div><div style="left:7.5px;top:8.7px;width:5.0px;height:2.0px;background:#d0212b;"></div><div style="left:17.0px;top:6.2px;width:11.5px;height:1.5px;background:#444;"></div><div style="left:17.0px;top:9.2px;width:8.5px;height:0.8px;background:#ccc;"></div><div style="left:17.5px;top:13.7px;width:3.5px;height:1.3px;background:#d0212b;"></div><div style="left:0.6px;top:17.3px;width:18.3px;height:13.8px;background:linear-gradient(100deg,#3f3d3c 0%,#6e6b68 40%,#8a8682 60%,#4a4846 100%)"></div><div style="left:4.5px;top:20.7px;width:8.0px;height:4.0px;background:#c8c0c0;"></div><div style="left:20.5px;top:18.7px;width:7.0px;height:0.8px;background:#ddd;"></div><div style="left:20.5px;top:21.2px;width:7.0px;height:0.8px;background:#ddd;"></div><div style="left:20.5px;top:23.7px;width:5.0px;height:0.8px;background:#ddd;"></div><div style="left:20.0px;top:28.5px;width:3.5px;height:1.1px;background:#d0212b;"></div><div style="left:29.0px;top:17.7px;width:1.5px;height:13.0px;background:#888;"></div><div style="left:1.5px;top:34.2px;width:4.0px;height:1.0px;background:#d0212b;"></div><div style="left:11.5px;top:34.7px;width:3.0px;height:12.0px;background:#eee;"></div><div style="left:17.5px;top:34.7px;width:3.0px;height:12.0px;background:#eee;"></div><div style="left:23.5px;top:34.7px;width:3.0px;height:12.0px;background:#eee;"></div></div>
<div class="th" style="left:496.1px;top:242.2px;width:30.5px;height:29.1px;background:#fff;border-radius:1px;"><div style="left:0.9px;top:1.2px;width:28.6px;height:1.6px;background:#d0212b;"></div><div style="left:4.4px;top:6.8px;width:1.5px;height:6.0px;background:#2a5ac0;"></div><div style="left:6.9px;top:8.8px;width:5.0px;height:2.0px;background:#d0212b;"></div><div style="left:16.4px;top:6.3px;width:10.5px;height:1.5px;background:#444;"></div><div style="left:16.4px;top:9.8px;width:5.5px;height:0.8px;background:#e8a0a8;"></div><div style="left:0.6px;top:15.2px;width:17.7px;height:12.2px;background:linear-gradient(100deg,#3f3d3c 0%,#6e6b68 40%,#8a8682 60%,#4a4846 100%)"></div><div style="left:3.9px;top:17.8px;width:8.0px;height:4.0px;background:#c8c0c0;"></div><div style="left:19.9px;top:16.3px;width:6.0px;height:0.8px;background:#e8a0a8;"></div><div style="left:19.9px;top:18.8px;width:6.0px;height:0.8px;background:#ddd;"></div><div style="left:19.4px;top:25.2px;width:3.0px;height:1.0px;background:#d0212b;"></div><div style="left:27.4px;top:15.8px;width:1.8px;height:11.5px;background:#888;"></div></div>
<div class="th" style="left:558.4px;top:185.5px;width:37.0px;height:32.7px;background:#fff;"><div style="left:3.7px;top:1.0px;width:3.7px;height:0.8px;background:#d0212b;"></div><div style="left:4.4px;top:3.0px;width:15.9px;height:26.7px;background-image:repeating-linear-gradient(180deg,rgba(0,0,0,0) 0,rgba(0,0,0,0) 1.6px,rgba(120,120,135,.16) 1.6px,rgba(120,120,135,.16) 2.2px,rgba(0,0,0,0) 2.2px,rgba(0,0,0,0) 3.4px);"></div><div style="left:22.9px;top:3.0px;width:11.1px;height:16.6px;background-image:repeating-linear-gradient(180deg,rgba(0,0,0,0) 0,rgba(0,0,0,0) 1.6px,rgba(120,120,135,.16) 1.6px,rgba(120,120,135,.16) 2.2px,rgba(0,0,0,0) 2.2px,rgba(0,0,0,0) 3.4px);"></div><div style="left:22.2px;top:28.7px;width:11.1px;height:1.4px;background:#d0212b;"></div><div style="left:4.4px;top:29.5px;width:3.0px;height:1.0px;background:#d0212b;"></div></div>
<div class="th" style="left:558.4px;top:220.8px;width:37.0px;height:29.1px;background:#fff;"><div style="left:3.7px;top:1.0px;width:3.7px;height:0.8px;background:#d0212b;"></div><div style="left:4.4px;top:3.0px;width:15.9px;height:23.1px;background-image:repeating-linear-gradient(180deg,rgba(0,0,0,0) 0,rgba(0,0,0,0) 1.6px,rgba(120,120,135,.16) 1.6px,rgba(120,120,135,.16) 2.2px,rgba(0,0,0,0) 2.2px,rgba(0,0,0,0) 3.4px);"></div><div style="left:22.9px;top:3.0px;width:11.1px;height:14.5px;background-image:repeating-linear-gradient(180deg,rgba(0,0,0,0) 0,rgba(0,0,0,0) 1.6px,rgba(120,120,135,.16) 1.6px,rgba(120,120,135,.16) 2.2px,rgba(0,0,0,0) 2.2px,rgba(0,0,0,0) 3.4px);"></div><div style="left:22.2px;top:25.1px;width:11.1px;height:1.4px;background:#d0212b;"></div><div style="left:4.4px;top:25.9px;width:3.0px;height:1.0px;background:#d0212b;"></div></div>
<div class="th" style="left:558.4px;top:252.9px;width:37.0px;height:27.8px;background:#fff;"><div style="left:3.7px;top:1.0px;width:3.7px;height:0.8px;background:#d0212b;"></div><div style="left:4.4px;top:3.0px;width:15.9px;height:21.8px;background-image:repeating-linear-gradient(180deg,rgba(0,0,0,0) 0,rgba(0,0,0,0) 1.6px,rgba(120,120,135,.16) 1.6px,rgba(120,120,135,.16) 2.2px,rgba(0,0,0,0) 2.2px,rgba(0,0,0,0) 3.4px);"></div><div style="left:22.9px;top:3.0px;width:11.1px;height:13.7px;background-image:repeating-linear-gradient(180deg,rgba(0,0,0,0) 0,rgba(0,0,0,0) 1.6px,rgba(120,120,135,.16) 1.6px,rgba(120,120,135,.16) 2.2px,rgba(0,0,0,0) 2.2px,rgba(0,0,0,0) 3.4px);"></div><div style="left:22.2px;top:23.8px;width:11.1px;height:1.4px;background:#d0212b;"></div><div style="left:4.4px;top:24.6px;width:3.0px;height:1.0px;background:#d0212b;"></div></div>
<div class="th" style="left:598.8px;top:220.8px;width:11.0px;height:42.4px;background:#fff;"><div style="left:1.1px;top:1.0px;width:3.3px;height:0.8px;background:#d0212b;"></div><div style="left:1.3px;top:3.0px;width:8.4px;height:36.4px;background-image:repeating-linear-gradient(180deg,rgba(0,0,0,0) 0,rgba(0,0,0,0) 1.6px,rgba(120,120,135,.16) 1.6px,rgba(120,120,135,.16) 2.2px,rgba(0,0,0,0) 2.2px,rgba(0,0,0,0) 3.4px);"></div><div style="left:1.6px;top:38.4px;width:3.9px;height:1.0px;background:#d0212b;"></div><div style="left:6.2px;top:3.2px;width:3.0px;height:1.6px;background:#2a6ac8;"></div><div style="left:6.2px;top:22.2px;width:3.0px;height:1.6px;background:#2a6ac8;"></div><div style="left:6.2px;top:29.2px;width:3.0px;height:1.6px;background:#2a6ac8;"></div><div style="left:0.7px;top:36.2px;width:3.5px;height:1.0px;background:#d0212b;"></div><div style="left:6.7px;top:36.2px;width:3.5px;height:1.0px;background:#d0212b;"></div></div>
<div class="th" style="left:615.0px;top:186.0px;width:49.4px;height:29.6px;background:#fff;"><div style="left:22.0px;top:2.5px;width:5.0px;height:4.5px;background:#8a5a3c;"></div><div style="left:18.0px;top:9.5px;width:12.0px;height:1.0px;background:#7fb8ec;"></div><div style="left:25.0px;top:14.0px;width:4.5px;height:4.0px;background:#777;"></div><div style="left:25.0px;top:20.0px;width:4.5px;height:4.0px;background:#777;"></div><div style="left:15.0px;top:26.2px;width:10.0px;height:1.0px;background:#2a6ac8;"></div><div style="left:31.0px;top:24.5px;width:11.0px;height:1.1px;background:#d0212b;"></div><div style="left:33.0px;top:4.0px;width:3.0px;height:15.0px;background:#eee;"></div><div style="left:39.0px;top:4.0px;width:8.0px;height:1.0px;background:#ddd;"></div></div>
<div class="th" style="left:615.5px;top:218.2px;width:37.3px;height:25.0px;background:#fff;"><div style="left:3.5px;top:1.8px;width:8.0px;height:1.2px;background:#444;"></div><div style="left:15.5px;top:1.3px;width:5.0px;height:4.5px;background:#8a5a3c;"></div><div style="left:3.5px;top:13.3px;width:15.0px;height:1.1px;background:#7fb8ec;"></div><div style="left:15.5px;top:17.3px;width:5.0px;height:5.0px;background:#777;"></div><div style="left:23.5px;top:3.8px;width:11.0px;height:17.0px;background:#f1f1f4;"></div></div>
<div class="th" style="left:654.6px;top:218.2px;width:11.1px;height:28.3px;background:#fff;"><div style="left:1.1px;top:1.0px;width:3.3px;height:0.8px;background:#d0212b;"></div><div style="left:1.3px;top:3.0px;width:8.4px;height:22.3px;background-image:repeating-linear-gradient(180deg,rgba(0,0,0,0) 0,rgba(0,0,0,0) 1.6px,rgba(120,120,135,.16) 1.6px,rgba(120,120,135,.16) 2.2px,rgba(0,0,0,0) 2.2px,rgba(0,0,0,0) 3.4px);"></div><div style="left:1.7px;top:24.3px;width:3.9px;height:1.0px;background:#d0212b;"></div><div style="left:6.9px;top:1.8px;width:3.0px;height:3.5px;background:#8a5a3c;"></div><div style="left:0.9px;top:11.3px;width:9.3px;height:1.0px;background:#7fb8ec;"></div><div style="left:6.4px;top:15.8px;width:3.5px;height:4.0px;background:#777;"></div></div>
<div class="th" style="left:616.0px;top:246.5px;width:35.5px;height:28.3px;background:#fff;"><div style="left:7.0px;top:2.5px;width:6.0px;height:1.0px;background:#444;"></div><div style="left:16.0px;top:2.0px;width:5.0px;height:4.5px;background:#8a5a3c;"></div><div style="left:8.0px;top:13.5px;width:12.0px;height:1.0px;background:#7fb8ec;"></div><div style="left:16.0px;top:16.5px;width:5.0px;height:4.5px;background:#777;"></div><div style="left:9.0px;top:24.0px;width:10.0px;height:1.0px;background:#7fb8ec;"></div><div style="left:22.0px;top:22.0px;width:10.0px;height:1.1px;background:#d0212b;"></div><div style="left:24.0px;top:4.5px;width:3.0px;height:11.0px;background:#eee;"></div></div>
<div class="th" style="left:616.0px;top:276.6px;width:35.0px;height:48.9px;background:#fff;"><div style="left:6.0px;top:3.4px;width:4.0px;height:1.0px;background:#444;"></div><div style="left:17.0px;top:12.9px;width:4.5px;height:4.5px;background:#2a3a4a;"></div><div style="left:8.0px;top:20.4px;width:10.0px;height:1.0px;background:#7fb8ec;"></div><div style="left:18.0px;top:24.9px;width:4.0px;height:4.0px;background:#6a4a3a;"></div><div style="left:24.0px;top:26.6px;width:10.0px;height:1.1px;background:#d0212b;"></div><div style="left:12.0px;top:33.4px;width:3.0px;height:4.0px;background:#5a3a3a;"></div><div style="left:16.0px;top:33.4px;width:3.0px;height:4.0px;background:#3a3a3a;"></div><div style="left:20.0px;top:33.4px;width:3.0px;height:4.0px;background:#7a4a4a;"></div><div style="left:9.0px;top:44.9px;width:11.0px;height:1.1px;background:#d0212b;"></div><div style="left:6.0px;top:47.4px;width:3.0px;height:1.0px;background:#d0212b;"></div></div>
<div class="th" style="left:606.5px;top:289.0px;width:16.2px;height:9.8px;background:#fff;"><div style="left:1.0px;top:1.0px;width:4.5px;height:2.0px;background:#555;"></div><div style="left:6.5px;top:1.0px;width:3.0px;height:2.0px;background:#999;"></div><div style="left:1.0px;top:7.0px;width:8.5px;height:1.0px;background:#7fb8ec;"></div></div>
<div class="th" style="left:680.6px;top:179.2px;width:39.9px;height:52.3px;background:#fff;"><div style="left:9.4px;top:1.8px;width:3.0px;height:1.0px;background:#d0212b;"></div><div style="left:18.4px;top:2.3px;width:4.0px;height:2.5px;background:#8a5a3c;"></div><div style="left:21.4px;top:3.8px;width:7.0px;height:13.0px;background:#f2f2f5;"></div><div style="left:21.9px;top:18.8px;width:7.5px;height:1.2px;background:#f0b8bc;"></div><div style="left:11.4px;top:21.3px;width:9.0px;height:1.0px;background:#7fb8ec;"></div><div style="left:17.4px;top:23.8px;width:3.0px;height:16.0px;background:#555;opacity:.6"></div><div style="left:10.4px;top:50.8px;width:2.0px;height:1.0px;background:#d0212b;"></div></div>
<div class="th" style="left:681.2px;top:234.1px;width:23.8px;height:14.9px;background:#fff;box-shadow:0 0 0 .5px #eee;"><div style="left:0.0px;top:0.0px;width:23.8px;height:14.9px;background:#6b7183;"></div><div style="left:4.1px;top:8.2px;width:17.3px;height:4.7px;background:#fff;"></div><div style="left:10.8px;top:0.9px;width:5.0px;height:3.0px;background:#2a3040;"></div></div>
<div class="th" style="left:721.3px;top:179.2px;width:11.8px;height:109.2px;background:#fff;"><div style="left:1.2px;top:1.0px;width:3.5px;height:0.8px;background:#d0212b;"></div><div style="left:1.4px;top:3.0px;width:9.0px;height:103.2px;background-image:repeating-linear-gradient(180deg,rgba(0,0,0,0) 0,rgba(0,0,0,0) 1.6px,rgba(120,120,135,.16) 1.6px,rgba(120,120,135,.16) 2.2px,rgba(0,0,0,0) 2.2px,rgba(0,0,0,0) 3.4px);"></div><div style="left:1.8px;top:105.2px;width:4.1px;height:1.0px;background:#d0212b;"></div><div style="left:0.7px;top:5.8px;width:10.0px;height:1.0px;background:#7fb8ec;"></div><div style="left:0.7px;top:17.3px;width:10.0px;height:1.0px;background:#7fb8ec;"></div><div style="left:0.7px;top:27.8px;width:10.0px;height:1.0px;background:#7fb8ec;"></div><div style="left:8.2px;top:30.8px;width:3.0px;height:3.0px;background:#8a5a3c;"></div><div style="left:0.7px;top:36.8px;width:10.0px;height:1.0px;background:#7fb8ec;"></div><div style="left:8.2px;top:40.3px;width:3.0px;height:3.0px;background:#8a5a3c;"></div><div style="left:8.2px;top:48.3px;width:3.0px;height:3.0px;background:#777;"></div><div style="left:1.7px;top:55.8px;width:8.0px;height:4.0px;background:#dfe6f4;"></div><div style="left:0.7px;top:61.3px;width:10.0px;height:1.0px;background:#7fb8ec;"></div><div style="left:0.7px;top:79.3px;width:10.0px;height:1.0px;background:#7fb8ec;"></div><div style="left:0.7px;top:98.8px;width:10.0px;height:1.4px;background:#d0212b;"></div></div>
<div class="th" style="left:734.1px;top:179.2px;width:20.4px;height:55.5px;background:#fff;"><div style="left:2.4px;top:2.0px;width:15.5px;height:51.5px;background-image:repeating-linear-gradient(180deg,rgba(0,0,0,0) 0,rgba(0,0,0,0) 1.6px,rgba(120,120,135,.16) 1.6px,rgba(120,120,135,.16) 2.2px,rgba(0,0,0,0) 2.2px,rgba(0,0,0,0) 3.4px);"></div><div style="left:6.9px;top:53.8px;width:4.0px;height:1.0px;background:#d0212b;"></div></div>
<div class="th" style="left:764.0px;top:179.2px;width:17.9px;height:72.6px;background:#fff;overflow:visible;"><div style="left:13.0px;top:0.8px;width:4.0px;height:4.0px;background:#5a6a8a;"></div><div style="left:2.0px;top:7.3px;width:14.0px;height:1.5px;background:#6a88b8;"></div><div style="left:4.0px;top:16.8px;width:4.0px;height:1.5px;background:#2a4aa8;"></div><div style="left:9.0px;top:16.8px;width:4.0px;height:1.5px;background:#d0212b;"></div><div style="left:2.0px;top:20.3px;width:14.0px;height:1.3px;background:#7fb8ec;"></div><div style="left:0.6px;top:25.0px;width:17.7px;height:12.6px;background:#565c6c;"></div><div style="left:7.0px;top:27.8px;width:6.0px;height:7.0px;background:#fff;"></div><div style="left:14.0px;top:28.8px;width:4.0px;height:4.0px;background:#dde;"></div><div style="left:13.0px;top:40.8px;width:4.0px;height:4.0px;background:#5a6a8a;"></div><div style="left:2.0px;top:45.8px;width:14.0px;height:1.5px;background:#888;"></div><div style="left:2.0px;top:52.8px;width:14.0px;height:1.2px;background:#7fb8ec;"></div><div style="left:13.0px;top:57.3px;width:4.0px;height:4.0px;background:#5a6a8a;"></div><div style="left:3.0px;top:70.1px;width:12.0px;height:1.1px;background:#7fb8ec;"></div></div>
<div class="th" style="left:764.0px;top:253.0px;width:17.5px;height:18.4px;background:#fff;"><div style="left:2.1px;top:2.0px;width:13.3px;height:14.4px;background-image:repeating-linear-gradient(180deg,rgba(0,0,0,0) 0,rgba(0,0,0,0) 1.6px,rgba(120,120,135,.16) 1.6px,rgba(120,120,135,.16) 2.2px,rgba(0,0,0,0) 2.2px,rgba(0,0,0,0) 3.4px);"></div><div style="left:3.0px;top:15.5px;width:12.0px;height:1.1px;background:#7fb8ec;"></div></div>
<div class="th" style="left:764.0px;top:272.8px;width:17.9px;height:25.0px;background:#fff;"><div style="left:2.1px;top:2.0px;width:13.6px;height:21.0px;background-image:repeating-linear-gradient(180deg,rgba(0,0,0,0) 0,rgba(0,0,0,0) 1.6px,rgba(120,120,135,.16) 1.6px,rgba(120,120,135,.16) 2.2px,rgba(0,0,0,0) 2.2px,rgba(0,0,0,0) 3.4px);"></div></div>
<div class="th" style="left:797.2px;top:181.2px;width:36.6px;height:48.2px;background:#fff;"><div style="left:2.3px;top:0.8px;width:3.5px;height:1.0px;background:#d0212b;"></div><div style="left:3.8px;top:3.8px;width:9.0px;height:1.0px;background:#bbb;"></div><div style="left:3.8px;top:8.8px;width:11.0px;height:1.5px;background:#eee;"></div><div style="left:3.8px;top:19.8px;width:3.0px;height:1.0px;background:#2a9ad8;"></div><div style="left:7.3px;top:19.8px;width:2.5px;height:1.0px;background:#c84a2a;"></div><div style="left:5.3px;top:29.4px;width:14.0px;height:1.6px;background:#7fb8ec;"></div><div style="left:21.7px;top:29.4px;width:11.8px;height:1.6px;background:#e87a84;"></div><div style="left:3.8px;top:35.3px;width:9.0px;height:0.8px;background:#ddd;"></div><div style="left:3.8px;top:40.8px;width:11.0px;height:0.8px;background:#ddd;"></div><div style="left:3.4px;top:45.8px;width:3.7px;height:1.4px;background:#d0212b;"></div><div style="left:20.8px;top:1.8px;width:14.0px;height:13.0px;background:#fafafc;"></div></div>
<div class="th" style="left:837.2px;top:181.2px;width:11.4px;height:41.3px;background:#fff;"><div style="left:1.1px;top:1.0px;width:3.4px;height:0.8px;background:#d0212b;"></div><div style="left:1.4px;top:3.0px;width:8.7px;height:35.3px;background-image:repeating-linear-gradient(180deg,rgba(0,0,0,0) 0,rgba(0,0,0,0) 1.6px,rgba(120,120,135,.16) 1.6px,rgba(120,120,135,.16) 2.2px,rgba(0,0,0,0) 2.2px,rgba(0,0,0,0) 3.4px);"></div><div style="left:1.7px;top:37.3px;width:4.0px;height:1.0px;background:#d0212b;"></div><div style="left:0.8px;top:24.8px;width:10.0px;height:1.2px;background:#7fb8ec;"></div><div style="left:0.8px;top:14.8px;width:2.0px;height:1.0px;background:#2a9ad8;"></div></div>
<div class="th" style="left:806.3px;top:236.8px;width:20.4px;height:23.8px;background:#f4f8fd;"><div style="left:2.4px;top:2.0px;width:15.5px;height:19.8px;background-image:repeating-linear-gradient(180deg,rgba(0,0,0,0) 0,rgba(0,0,0,0) 1.6px,rgba(120,120,135,.16) 1.6px,rgba(120,120,135,.16) 2.2px,rgba(0,0,0,0) 2.2px,rgba(0,0,0,0) 3.4px);"></div></div>
<div class="th" style="left:927.3px;top:184.7px;width:46.8px;height:26.4px;background:#fff;"><div style="left:1.7px;top:0.9px;width:4.5px;height:1.0px;background:#d0212b;"></div><div style="left:15.7px;top:6.8px;width:13.0px;height:1.1px;background:#333;"></div><div style="left:4.7px;top:10.3px;width:15.0px;height:0.8px;background:#ddd;"></div><div style="left:4.7px;top:12.3px;width:14.0px;height:0.8px;background:#ddd;"></div><div style="left:4.7px;top:14.8px;width:15.0px;height:0.8px;background:#ddd;"></div><div style="left:4.7px;top:16.8px;width:10.0px;height:0.8px;background:#ddd;"></div><div style="left:23.7px;top:9.3px;width:15.0px;height:11.0px;background:#f7f7fa;"></div><div style="left:24.7px;top:14.3px;width:13.0px;height:1.0px;background:#cfe0f8;"></div><div style="left:28.5px;top:18.9px;width:6.7px;height:2.0px;background:#d0212b;"></div><div style="left:36.7px;top:1.1px;width:7.0px;height:0.7px;background:#ccc;"></div></div>
<div class="th" style="left:978.2px;top:184.3px;width:11.6px;height:26.8px;background:#fff;"><div style="left:1.2px;top:1.0px;width:3.5px;height:0.8px;background:#d0212b;"></div><div style="left:1.4px;top:3.0px;width:8.8px;height:20.8px;background-image:repeating-linear-gradient(180deg,rgba(0,0,0,0) 0,rgba(0,0,0,0) 1.6px,rgba(120,120,135,.16) 1.6px,rgba(120,120,135,.16) 2.2px,rgba(0,0,0,0) 2.2px,rgba(0,0,0,0) 3.4px);"></div><div style="left:1.7px;top:22.8px;width:4.1px;height:1.0px;background:#d0212b;"></div><div style="left:1.8px;top:5.2px;width:8.0px;height:1.0px;background:#333;"></div><div style="left:4.3px;top:20.3px;width:4.0px;height:1.2px;background:#d0212b;"></div></div>
<div class="th" style="left:927.9px;top:214.4px;width:45.6px;height:23.8px;background:#fff;"><div style="left:15.1px;top:2.6px;width:14.0px;height:1.2px;background:#333;"></div><div style="left:2.0px;top:5.5px;width:41.1px;height:1.6px;background:#d0212b;"></div><div style="left:4.1px;top:9.6px;width:17.0px;height:0.8px;background:#ddd;"></div><div style="left:4.1px;top:11.6px;width:16.0px;height:0.8px;background:#ddd;"></div><div style="left:4.1px;top:14.1px;width:17.0px;height:0.8px;background:#ddd;"></div><div style="left:4.1px;top:16.6px;width:10.0px;height:0.8px;background:#ddd;"></div><div style="left:24.1px;top:9.6px;width:17.0px;height:0.8px;background:#ccc;"></div><div style="left:24.1px;top:12.1px;width:8.0px;height:0.8px;background:#ccc;"></div><div style="left:24.1px;top:14.6px;width:6.0px;height:0.8px;background:#ccc;"></div><div style="left:28.9px;top:18.3px;width:7.7px;height:2.0px;background:#d0212b;"></div></div>
<div class="th" style="left:193.1px;top:349.5px;width:31.7px;height:99.9px;background:#fff;"><div style="left:4.9px;top:0.7px;width:21.7px;height:2.2px;background:#d0212b;"></div><div style="left:4.9px;top:2.9px;width:21.7px;height:8.9px;background:#3d4450;"></div><div style="left:9.9px;top:5.5px;width:11.0px;height:3.0px;background:#8a8e98;"></div><div style="left:7.9px;top:14.0px;width:15.0px;height:0.8px;background:#bbb;"></div><div style="left:6.9px;top:20.0px;width:3.0px;height:2.0px;background:#c84a4a;"></div><div style="left:14.9px;top:20.0px;width:5.0px;height:2.0px;background:#e0a8a0;"></div><div style="left:21.9px;top:20.0px;width:2.5px;height:2.5px;background:#1c3f95;border-radius:50%"></div><div style="left:8.9px;top:25.8px;width:13.7px;height:7.1px;background:#1a2f86;"></div><div style="left:13.4px;top:28.0px;width:5.0px;height:2.5px;background:#c8c8e8;"></div><div style="left:6.9px;top:36.0px;width:18.0px;height:0.8px;background:#999;"></div><div style="left:7.9px;top:39.5px;width:2.0px;height:2.0px;background:#334;"></div><div style="left:14.9px;top:39.5px;width:2.0px;height:2.0px;background:#654;"></div><div style="left:21.9px;top:39.5px;width:2.0px;height:2.0px;background:#543;"></div><div style="left:10.9px;top:47.0px;width:10.0px;height:0.8px;background:#999;"></div><div style="left:9.9px;top:54.5px;width:12.0px;height:0.8px;background:#555;"></div><div style="left:4.9px;top:59.5px;width:10.0px;height:2.0px;background:#6a3a3a;"></div><div style="left:17.9px;top:56.5px;width:7.0px;height:1.0px;background:#ccc;"></div><div style="left:17.9px;top:59.5px;width:7.0px;height:1.0px;background:#ccc;"></div><div style="left:17.9px;top:66.5px;width:7.0px;height:3.0px;background:#c8d8d0;"></div><div style="left:22.9px;top:67.0px;width:2.5px;height:2.5px;background:#d04a4a;"></div><div style="left:5.9px;top:72.5px;width:7.0px;height:3.0px;background:#d04a4a;"></div><div style="left:9.9px;top:73.0px;width:5.0px;height:2.5px;background:#4aa84a;"></div><div style="left:17.9px;top:74.5px;width:6.0px;height:1.0px;background:#9ac;"></div><div style="left:5.9px;top:80.5px;width:8.0px;height:1.0px;background:#888;"></div><div style="left:22.4px;top:78.5px;width:3.0px;height:3.5px;background:#8a5a3c;"></div><div style="left:5.4px;top:84.5px;width:8.0px;height:4.5px;background:#5a2222;"></div><div style="left:19.9px;top:87.5px;width:7.0px;height:1.4px;background:#2a6ac8;"></div><div style="left:5.9px;top:92.0px;width:2.5px;height:1.0px;background:#d0212b;"></div><div style="left:13.9px;top:91.5px;width:12.0px;height:6.0px;background:#f2f2f5;"></div></div>
<div class="th" style="left:228.1px;top:349.5px;width:8.9px;height:122.0px;background:#fff;opacity:.96;"><div style="left:0.0px;top:0.5px;width:8.9px;height:2.0px;background:#d0212b;"></div><div style="left:0.0px;top:2.5px;width:8.9px;height:10.0px;background:#3a3e46;"></div><div style="left:1.9px;top:19.5px;width:3.0px;height:2.0px;background:#c84a4a;"></div><div style="left:5.4px;top:19.5px;width:2.0px;height:2.0px;background:#2a4aa8;"></div><div style="left:2.4px;top:28.5px;width:4.5px;height:2.0px;background:#c8a0a0;"></div><div style="left:3.1px;top:37.0px;width:3.0px;height:3.0px;background:#1c3f95;border-radius:50%"></div><div style="left:0.5px;top:41.7px;width:7.9px;height:4.9px;background:#1a2f86;"></div><div style="left:2.4px;top:50.5px;width:4.0px;height:4.0px;background:#dde;"></div><div style="left:1.9px;top:65.5px;width:5.0px;height:1.0px;background:#bbb;"></div><div style="left:1.9px;top:79.0px;width:2.0px;height:1.5px;background:#d04a4a;"></div><div style="left:4.9px;top:79.0px;width:3.0px;height:1.5px;background:#d04a4a;"></div><div style="left:2.9px;top:89.5px;width:4.0px;height:3.0px;background:#d86a6a;"></div><div style="left:1.9px;top:97.0px;width:5.5px;height:2.5px;background:#7ac87a;"></div><div style="left:5.9px;top:108.5px;width:2.5px;height:3.0px;background:#8a5a3c;"></div><div style="left:1.4px;top:116.0px;width:6.0px;height:1.5px;background:#2a6ac8;"></div><div style="left:1.4px;top:119.5px;width:1.5px;height:1.0px;background:#d0212b;"></div></div>
<div class="th" style="left:309.5px;top:349.1px;width:34.0px;height:85.4px;background:#fff;"><div style="left:7.8px;top:0.5px;width:18.9px;height:2.2px;background:#d0212b;"></div><div style="left:7.8px;top:2.7px;width:18.9px;height:8.4px;background:#3a4050;"></div><div style="left:12.5px;top:4.4px;width:8.0px;height:4.5px;background:#2a4a98;"></div><div style="left:15.5px;top:5.4px;width:4.0px;height:2.5px;background:#c83a44;"></div><div style="left:8.5px;top:13.9px;width:15.0px;height:0.8px;background:#bbb;"></div><div style="left:17.5px;top:17.9px;width:8.0px;height:5.0px;background:#e8ecf6;"></div><div style="left:18.0px;top:18.9px;width:2.0px;height:3.0px;background:#2a6ae0;"></div><div style="left:21.5px;top:19.4px;width:3.5px;height:2.0px;background:#c83a44;"></div><div style="left:17.5px;top:28.9px;width:8.0px;height:5.0px;background:#e8ecf6;"></div><div style="left:18.0px;top:29.9px;width:2.0px;height:3.0px;background:#2a6ae0;"></div><div style="left:21.5px;top:30.4px;width:3.5px;height:2.0px;background:#c83a44;"></div><div style="left:19.5px;top:36.9px;width:6.0px;height:5.5px;background:#e8ecf6;"></div><div style="left:22.5px;top:37.9px;width:2.5px;height:3.5px;background:#2a6ae0;"></div><div style="left:19.5px;top:45.4px;width:6.0px;height:5.5px;background:#e8ecf6;"></div><div style="left:22.5px;top:46.4px;width:2.5px;height:3.5px;background:#2a6ae0;"></div><div style="left:8.5px;top:16.9px;width:6.0px;height:1.0px;background:#ccc;"></div><div style="left:8.5px;top:27.9px;width:6.0px;height:1.0px;background:#ccc;"></div><div style="left:8.5px;top:36.9px;width:6.0px;height:1.0px;background:#ccc;"></div><div style="left:16.5px;top:53.9px;width:8.0px;height:0.8px;background:#888;"></div><div style="left:7.5px;top:64.9px;width:9.0px;height:0.8px;background:#888;"></div><div style="left:24.0px;top:62.4px;width:3.0px;height:3.5px;background:#8a5a3c;"></div><div style="left:7.5px;top:68.4px;width:8.0px;height:4.5px;background:#4a2020;"></div><div style="left:20.0px;top:70.9px;width:6.5px;height:1.4px;background:#2a6ac8;"></div><div style="left:8.0px;top:75.4px;width:2.5px;height:1.0px;background:#d0212b;"></div><div style="left:14.5px;top:75.4px;width:12.0px;height:6.5px;background:#f3f3f6;"></div></div>
<div class="th" style="left:346.8px;top:349.5px;width:9.3px;height:99.4px;background:#fff;opacity:.96;"><div style="left:0.0px;top:0.5px;width:9.3px;height:2.0px;background:#d0212b;"></div><div style="left:0.0px;top:2.5px;width:9.3px;height:9.5px;background:#3a4458;"></div><div style="left:1.2px;top:17.0px;width:4.0px;height:5.0px;background:#e8ecf6;"></div><div style="left:1.5px;top:18.0px;width:1.7px;height:3.0px;background:#2a6ae0;"></div><div style="left:5.7px;top:18.5px;width:2.5px;height:2.0px;background:#c83a44;"></div><div style="left:1.2px;top:34.5px;width:4.0px;height:5.0px;background:#e8ecf6;"></div><div style="left:1.5px;top:35.5px;width:1.7px;height:3.0px;background:#2a6ae0;"></div><div style="left:5.7px;top:36.0px;width:2.5px;height:2.0px;background:#c83a44;"></div><div style="left:4.2px;top:49.5px;width:4.5px;height:5.0px;background:#e8ecf6;"></div><div style="left:6.2px;top:50.5px;width:2.0px;height:3.0px;background:#2a6ae0;"></div><div style="left:4.2px;top:63.5px;width:4.5px;height:5.0px;background:#e8ecf6;"></div><div style="left:6.2px;top:64.5px;width:2.0px;height:3.0px;background:#2a6ae0;"></div><div style="left:1.2px;top:77.0px;width:7.0px;height:0.8px;background:#aaa;"></div><div style="left:6.2px;top:87.5px;width:2.5px;height:3.5px;background:#8a5a3c;"></div><div style="left:1.2px;top:95.5px;width:6.5px;height:1.4px;background:#2a6ac8;"></div></div>
<div class="th" style="left:365.0px;top:348.6px;width:31.1px;height:69.3px;background:#fff;"><div style="left:6.7px;top:0.6px;width:17.7px;height:1.8px;background:#d0212b;"></div><div style="left:6.7px;top:2.4px;width:17.7px;height:8.1px;background:#40342e;"></div><div style="left:11.0px;top:3.9px;width:10.0px;height:5.0px;background:#7a2a22;"></div><div style="left:9.0px;top:13.9px;width:2.0px;height:2.0px;background:#543;"></div><div style="left:15.0px;top:13.9px;width:2.0px;height:2.0px;background:#543;"></div><div style="left:21.0px;top:13.9px;width:2.0px;height:2.0px;background:#543;"></div><div style="left:10.0px;top:19.4px;width:11.0px;height:0.8px;background:#888;"></div><div style="left:11.0px;top:26.9px;width:3.0px;height:1.0px;background:#2a6ac8;"></div><div style="left:7.0px;top:35.4px;width:10.0px;height:0.8px;background:#888;"></div><div style="left:15.0px;top:32.4px;width:6.0px;height:1.5px;background:#6a3a3a;"></div><div style="left:7.0px;top:45.4px;width:6.0px;height:2.0px;background:#556;"></div><div style="left:17.0px;top:44.9px;width:6.0px;height:0.8px;background:#ccc;"></div><div style="left:9.0px;top:50.9px;width:12.0px;height:0.8px;background:#888;"></div><div style="left:16.0px;top:48.9px;width:2.5px;height:3.0px;background:#8a5a3c;"></div><div style="left:6.5px;top:53.9px;width:8.5px;height:4.5px;background:#4a1c1c;"></div><div style="left:18.5px;top:56.4px;width:6.5px;height:1.4px;background:#2a6ac8;"></div><div style="left:7.0px;top:60.4px;width:2.5px;height:1.0px;background:#d0212b;"></div><div style="left:13.0px;top:60.9px;width:12.0px;height:6.0px;background:#f3f3f6;"></div></div>
<div class="th" style="left:399.4px;top:349.5px;width:10.6px;height:102.1px;background:#fff;opacity:.96;"><div style="left:0.0px;top:0.5px;width:10.6px;height:2.0px;background:#d0212b;"></div><div style="left:0.0px;top:2.5px;width:10.6px;height:12.0px;background:#40342e;"></div><div style="left:1.6px;top:4.0px;width:7.5px;height:7.5px;background:#6a2a24;"></div><div style="left:3.6px;top:16.5px;width:3.0px;height:2.5px;background:#654;"></div><div style="left:2.6px;top:28.0px;width:5.5px;height:1.0px;background:#666;"></div><div style="left:2.6px;top:38.0px;width:5.5px;height:1.5px;background:#2a6ac8;"></div><div style="left:1.6px;top:44.5px;width:7.5px;height:2.5px;background:#7a5048;"></div><div style="left:3.6px;top:57.5px;width:3.5px;height:3.0px;background:#99a;"></div><div style="left:1.6px;top:64.5px;width:7.0px;height:1.0px;background:#e8a0a8;"></div><div style="left:1.6px;top:71.0px;width:7.5px;height:1.5px;background:#556;"></div><div style="left:7.1px;top:82.0px;width:3.0px;height:3.5px;background:#8a5a3c;"></div><div style="left:1.6px;top:90.5px;width:7.5px;height:1.4px;background:#2a6ac8;"></div><div style="left:1.6px;top:94.5px;width:2.0px;height:1.0px;background:#d0212b;"></div></div>
<div class="th" style="left:435.3px;top:355.7px;width:28.9px;height:57.3px;background:#fff;"><div style="left:1.7px;top:1.1px;width:4.0px;height:1.0px;background:#d0212b;"></div><div style="left:11.2px;top:3.8px;width:6.0px;height:5.0px;background:#2a2e3a;"></div><div style="left:11.2px;top:14.3px;width:6.0px;height:5.0px;background:#3a3e4a;"></div><div style="left:11.2px;top:26.3px;width:6.0px;height:5.0px;background:#aaa;"></div><div style="left:3.2px;top:4.3px;width:5.5px;height:1.0px;background:#999;"></div><div style="left:3.2px;top:15.8px;width:6.5px;height:1.0px;background:#555;"></div><div style="left:19.7px;top:4.3px;width:7.0px;height:8.0px;background:#f6f6f9;"></div><div style="left:19.7px;top:14.3px;width:7.0px;height:0.8px;background:#b8c8e8;"></div><div style="left:3.2px;top:28.3px;width:5.5px;height:1.0px;background:#ccc;"></div><div style="left:13.7px;top:33.8px;width:3.0px;height:2.5px;background:#999;"></div><div style="left:3.2px;top:40.3px;width:9.5px;height:0.8px;background:#ccc;"></div></div>
<div class="th" style="left:435.3px;top:418.3px;width:29.5px;height:52.4px;background:#fff;"><div style="left:0.0px;top:0.5px;width:29.5px;height:3.1px;background:#d0212b;"></div><div style="left:0.0px;top:3.6px;width:29.5px;height:12.6px;background:#2c4258;"></div><div style="left:16.7px;top:5.2px;width:9.0px;height:10.5px;background:#6a8098;"></div><div style="left:2.7px;top:6.7px;width:11.0px;height:5.0px;background:#c8ccd2;"></div><div style="left:4.7px;top:19.7px;width:20.0px;height:1.0px;background:#555;"></div><div style="left:5.7px;top:23.7px;width:4.0px;height:1.0px;background:#ccc;"></div><div style="left:12.7px;top:23.7px;width:4.0px;height:1.0px;background:#ccc;"></div><div style="left:19.7px;top:23.7px;width:4.0px;height:1.0px;background:#ccc;"></div><div style="left:5.7px;top:29.2px;width:18.0px;height:1.0px;background:#333;"></div><div style="left:0.7px;top:32.8px;width:28.2px;height:18.9px;background:#262220;"></div><div style="left:1.7px;top:34.2px;width:7.5px;height:7.0px;background:#4a423c;"></div><div style="left:10.7px;top:34.2px;width:8.0px;height:7.0px;background:#3a3838;"></div><div style="left:20.2px;top:34.2px;width:7.5px;height:7.0px;background:#4a4644;"></div><div style="left:1.7px;top:42.7px;width:7.5px;height:7.5px;background:#3a3430;"></div><div style="left:10.7px;top:42.7px;width:8.0px;height:7.5px;background:#4a4440;"></div><div style="left:20.2px;top:42.7px;width:7.5px;height:7.5px;background:#3a3a3c;"></div></div>
<div class="th" style="left:489.2px;top:356.9px;width:29.5px;height:54.7px;background:#fff;"><div style="left:7.3px;top:0.6px;width:1.5px;height:0.8px;background:#d0212b;"></div><div style="left:12.8px;top:1.6px;width:3.5px;height:3.5px;background:#2a2e3a;"></div><div style="left:12.8px;top:7.6px;width:3.5px;height:3.5px;background:#3a3e4a;"></div><div style="left:12.8px;top:14.6px;width:3.5px;height:3.5px;background:#c8a8a0;"></div><div style="left:12.8px;top:23.6px;width:3.5px;height:3.5px;background:#777;"></div><div style="left:13.8px;top:29.6px;width:3.0px;height:3.5px;background:#8a6a5a;"></div><div style="left:18.3px;top:10.6px;width:3.5px;height:1.3px;background:#2a6ac8;"></div><div style="left:18.3px;top:23.1px;width:3.5px;height:1.3px;background:#2a6ac8;"></div><div style="left:18.3px;top:36.1px;width:3.5px;height:1.3px;background:#2a6ac8;"></div><div style="left:18.3px;top:50.6px;width:3.5px;height:1.3px;background:#2a6ac8;"></div><div style="left:8.3px;top:3.1px;width:3.0px;height:1.0px;background:#999;"></div><div style="left:8.3px;top:15.1px;width:3.0px;height:1.0px;background:#999;"></div></div>
<div class="th" style="left:521.8px;top:356.9px;width:14.0px;height:36.6px;background:#fff;"><div style="left:2.2px;top:0.6px;width:1.5px;height:0.8px;background:#d0212b;"></div><div style="left:5.2px;top:1.6px;width:3.0px;height:3.0px;background:#2a2e3a;"></div><div style="left:5.2px;top:6.6px;width:3.0px;height:3.0px;background:#3a3e4a;"></div><div style="left:5.2px;top:11.6px;width:3.0px;height:3.0px;background:#c8a8a0;"></div><div style="left:2.7px;top:21.1px;width:4.5px;height:1.0px;background:#ccc;"></div><div style="left:9.2px;top:24.1px;width:3.0px;height:1.0px;background:#ccc;"></div></div>
<div class="th" style="left:575.0px;top:356.7px;width:52.9px;height:27.5px;background:#fff;"><div style="left:11.5px;top:0.8px;width:3.5px;height:0.9px;background:#d0212b;"></div><div style="left:13.0px;top:4.3px;width:6.0px;height:1.0px;background:#555;"></div><div style="left:13.0px;top:8.8px;width:5.0px;height:1.0px;background:#555;"></div><div style="left:13.0px;top:14.3px;width:5.0px;height:1.0px;background:#555;"></div><div style="left:13.0px;top:19.3px;width:5.0px;height:1.0px;background:#555;"></div><div style="left:23.5px;top:7.8px;width:2.0px;height:2.0px;background:#2a6ae0;"></div><div style="left:25.8px;top:8.1px;width:1.7px;height:1.4px;background:#c83a44;"></div><div style="left:23.5px;top:13.8px;width:2.0px;height:2.0px;background:#2a6ae0;"></div><div style="left:23.5px;top:19.3px;width:2.0px;height:2.0px;background:#2a6ae0;"></div><div style="left:28.0px;top:1.3px;width:1.0px;height:25.0px;background:#eee;"></div><div style="left:30.0px;top:3.3px;width:9.0px;height:1.0px;background:#ddd;"></div><div style="left:30.0px;top:11.3px;width:7.0px;height:1.0px;background:#ddd;"></div><div style="left:29.5px;top:24.3px;width:10.0px;height:1.4px;background:#d0212b;"></div></div>
<div class="th" style="left:630.0px;top:356.7px;width:11.0px;height:30.9px;background:#fff;"><div style="left:1.1px;top:1.0px;width:3.3px;height:0.8px;background:#d0212b;"></div><div style="left:1.3px;top:3.0px;width:8.4px;height:24.9px;background-image:repeating-linear-gradient(180deg,rgba(0,0,0,0) 0,rgba(0,0,0,0) 1.6px,rgba(120,120,135,.16) 1.6px,rgba(120,120,135,.16) 2.2px,rgba(0,0,0,0) 2.2px,rgba(0,0,0,0) 3.4px);"></div><div style="left:1.6px;top:26.9px;width:3.9px;height:1.0px;background:#d0212b;"></div><div style="left:6.5px;top:7.3px;width:2.0px;height:2.0px;background:#2a6ae0;"></div><div style="left:8.7px;top:7.6px;width:1.6px;height:1.4px;background:#c83a44;"></div><div style="left:6.5px;top:13.3px;width:2.0px;height:2.0px;background:#2a6ae0;"></div><div style="left:6.5px;top:19.3px;width:2.0px;height:2.0px;background:#2a6ae0;"></div><div style="left:1.0px;top:24.8px;width:3.0px;height:1.2px;background:#d0212b;"></div><div style="left:7.0px;top:24.8px;width:3.0px;height:1.2px;background:#d0212b;"></div></div>
<div class="th" style="left:575.0px;top:393.8px;width:52.9px;height:35.7px;background:#fff;"><div style="left:11.5px;top:0.7px;width:3.5px;height:0.9px;background:#d0212b;"></div><div style="left:13.0px;top:4.2px;width:7.0px;height:1.0px;background:#444;"></div><div style="left:13.0px;top:6.7px;width:5.0px;height:0.8px;background:#ccc;"></div><div style="left:24.0px;top:3.7px;width:5.0px;height:5.0px;background:#8a5a3c;"></div><div style="left:14.0px;top:13.2px;width:13.0px;height:1.2px;background:#7fb8ec;"></div><div style="left:22.0px;top:16.2px;width:5.5px;height:5.0px;background:#4a5a7a;"></div><div style="left:14.0px;top:27.2px;width:13.0px;height:1.2px;background:#7fb8ec;"></div><div style="left:14.0px;top:30.7px;width:13.5px;height:1.5px;background:#d0212b;"></div><div style="left:12.5px;top:33.7px;width:3.0px;height:1.0px;background:#d0212b;"></div><div style="left:30.0px;top:2.2px;width:1.0px;height:32.0px;background:#eee;"></div><div style="left:32.0px;top:6.2px;width:9.0px;height:15.0px;background:#f4f4f7;"></div><div style="left:29.5px;top:26.7px;width:10.0px;height:1.4px;background:#d0212b;"></div></div>
<div class="th" style="left:630.0px;top:393.8px;width:11.0px;height:23.6px;background:#fff;"><div style="left:1.1px;top:1.0px;width:3.3px;height:0.8px;background:#d0212b;"></div><div style="left:1.3px;top:3.0px;width:8.4px;height:17.6px;background-image:repeating-linear-gradient(180deg,rgba(0,0,0,0) 0,rgba(0,0,0,0) 1.6px,rgba(120,120,135,.16) 1.6px,rgba(120,120,135,.16) 2.2px,rgba(0,0,0,0) 2.2px,rgba(0,0,0,0) 3.4px);"></div><div style="left:1.6px;top:19.6px;width:3.9px;height:1.0px;background:#d0212b;"></div><div style="left:7.5px;top:2.2px;width:3.0px;height:3.5px;background:#8a5a3c;"></div><div style="left:1.0px;top:10.2px;width:9.0px;height:1.2px;background:#7fb8ec;"></div><div style="left:7.5px;top:13.2px;width:2.8px;height:3.0px;background:#777;"></div><div style="left:1.0px;top:18.2px;width:3.0px;height:1.2px;background:#d0212b;"></div></div>
<div class="th" style="left:692.8px;top:353.5px;width:44.0px;height:116.3px;background:#fff;"><div style="left:9.2px;top:0.8px;width:3.0px;height:0.9px;background:#d0212b;"></div><div style="left:11.2px;top:3.5px;width:6.0px;height:1.0px;background:#555;"></div><div style="left:20.2px;top:2.5px;width:3.5px;height:3.5px;background:#4a2a2a;"></div><div style="left:24.7px;top:5.5px;width:7.5px;height:11.0px;background:#f4f4f7;"></div><div style="left:11.2px;top:12.5px;width:8.0px;height:1.0px;background:#ccc;"></div><div style="left:11.2px;top:17.5px;width:12.0px;height:1.2px;background:#7fb8ec;"></div><div style="left:24.2px;top:21.5px;width:8.5px;height:1.4px;background:#d0212b;"></div><div style="left:11.2px;top:28.0px;width:11.0px;height:1.2px;background:#7fb8ec;"></div><div style="left:20.2px;top:30.0px;width:4.0px;height:4.5px;background:#c8a070;"></div><div style="left:11.2px;top:37.5px;width:11.0px;height:1.2px;background:#7fb8ec;"></div><div style="left:20.2px;top:40.5px;width:4.0px;height:4.5px;background:#6a4a3a;"></div><div style="left:11.2px;top:47.5px;width:11.0px;height:1.2px;background:#7fb8ec;"></div><div style="left:20.2px;top:50.0px;width:4.0px;height:4.5px;background:#3a5a9a;"></div><div style="left:11.2px;top:58.5px;width:4.0px;height:3.0px;background:#3a5a9a;"></div><div style="left:16.7px;top:58.5px;width:7.0px;height:3.0px;background:#cfe0f8;"></div><div style="left:11.2px;top:65.5px;width:4.0px;height:2.0px;background:#777;"></div><div style="left:20.2px;top:65.0px;width:4.0px;height:4.5px;background:#3a5a9a;"></div><div style="left:11.2px;top:75.5px;width:11.0px;height:1.2px;background:#7fb8ec;"></div><div style="left:11.2px;top:93.5px;width:11.0px;height:1.2px;background:#7fb8ec;"></div><div style="left:12.2px;top:111.0px;width:10.5px;height:1.5px;background:#d0212b;"></div><div style="left:10.7px;top:114.5px;width:2.5px;height:1.0px;background:#d0212b;"></div></div>
<div class="th" style="left:742.0px;top:353.5px;width:22.0px;height:116.3px;background:#fff;"><div style="left:1.5px;top:1.0px;width:5.5px;height:1.1px;background:#d0212b;"></div><div style="left:12.0px;top:1.5px;width:8.0px;height:0.8px;background:#ccc;"></div><div style="left:2.0px;top:5.5px;width:9.0px;height:1.0px;background:#555;"></div><div style="left:15.0px;top:4.5px;width:6.0px;height:5.0px;background:#4a2a2a;"></div><div style="left:2.0px;top:14.5px;width:8.0px;height:0.8px;background:#ccc;"></div><div style="left:2.0px;top:23.5px;width:12.0px;height:0.8px;background:#ccc;"></div><div style="left:2.0px;top:32.5px;width:11.0px;height:0.8px;background:#ccc;"></div><div style="left:2.0px;top:40.5px;width:10.0px;height:0.8px;background:#ccc;"></div><div style="left:2.0px;top:48.5px;width:12.0px;height:0.8px;background:#ccc;"></div><div style="left:2.0px;top:55.3px;width:19.0px;height:1.6px;background:#7fb8ec;"></div><div style="left:15.0px;top:60.0px;width:6.0px;height:6.0px;background:#888;"></div><div style="left:15.0px;top:69.5px;width:6.0px;height:6.0px;background:#999;"></div><div style="left:15.0px;top:78.5px;width:6.0px;height:6.0px;background:#888;"></div><div style="left:2.0px;top:62.5px;width:9.0px;height:0.8px;background:#ccc;"></div><div style="left:2.0px;top:71.5px;width:9.0px;height:0.8px;background:#ccc;"></div><div style="left:2.0px;top:80.5px;width:9.0px;height:0.8px;background:#ccc;"></div><div style="left:2.0px;top:88.5px;width:8.0px;height:0.8px;background:#ccc;"></div><div style="left:2.0px;top:96.5px;width:8.0px;height:0.8px;background:#ccc;"></div><div style="left:1.5px;top:105.5px;width:5.5px;height:1.4px;background:#d0212b;"></div><div style="left:8.0px;top:109.5px;width:13.0px;height:0.8px;background:#e8b8b8;"></div></div>
<div class="th" style="left:801.0px;top:352.7px;width:34.5px;height:66.3px;background:#fff;"><div style="left:2.5px;top:0.7px;width:3.0px;height:0.9px;background:#d0212b;"></div><div style="left:4.0px;top:4.3px;width:8.0px;height:1.0px;background:#999;"></div><div style="left:4.0px;top:8.3px;width:5.0px;height:0.8px;background:#9ab8e0;"></div><div style="left:4.0px;top:13.3px;width:14.0px;height:1.0px;background:#dde6f2;"></div><div style="left:5.0px;top:18.3px;width:2.0px;height:1.0px;background:#2a9ad8;"></div><div style="left:7.5px;top:18.3px;width:2.0px;height:1.0px;background:#c84a2a;"></div><div style="left:4.0px;top:26.8px;width:14.0px;height:1.4px;background:#7fb8ec;"></div><div style="left:20.5px;top:26.8px;width:10.0px;height:1.4px;background:#e05a68;"></div><div style="left:4.0px;top:32.3px;width:10.0px;height:0.8px;background:#ccc;"></div><div style="left:7.0px;top:45.8px;width:12.0px;height:1.2px;background:#7fb8ec;"></div><div style="left:4.0px;top:51.3px;width:7.0px;height:0.8px;background:#ccc;"></div><div style="left:4.0px;top:56.3px;width:14.0px;height:0.8px;background:#dde6f2;"></div><div style="left:4.5px;top:61.3px;width:13.0px;height:1.4px;background:#d0212b;"></div><div style="left:4.0px;top:64.3px;width:2.5px;height:1.0px;background:#d0212b;"></div><div style="left:19.0px;top:2.3px;width:1.0px;height:40.0px;background:#eee;"></div><div style="left:21.0px;top:3.3px;width:10.0px;height:1.0px;background:#ddd;"></div></div>
<div class="th" style="left:838.9px;top:352.7px;width:15.7px;height:56.9px;background:#fff;"><div style="left:1.1px;top:0.9px;width:4.0px;height:1.0px;background:#d0212b;"></div><div style="left:8.1px;top:1.1px;width:6.0px;height:0.7px;background:#ccc;"></div><div style="left:1.6px;top:4.3px;width:8.5px;height:0.8px;background:#999;"></div><div style="left:1.6px;top:7.8px;width:10.5px;height:0.8px;background:#e8b8b8;"></div><div style="left:1.6px;top:13.3px;width:7.5px;height:0.8px;background:#ccc;"></div><div style="left:2.1px;top:19.3px;width:2.0px;height:1.0px;background:#2a9ad8;"></div><div style="left:4.6px;top:19.3px;width:2.5px;height:1.0px;background:#6a4a3a;"></div><div style="left:1.6px;top:27.3px;width:9.5px;height:0.8px;background:#ccc;"></div><div style="left:1.4px;top:34.6px;width:13.0px;height:1.4px;background:#7fb8ec;"></div><div style="left:1.6px;top:40.3px;width:7.5px;height:0.8px;background:#ccc;"></div><div style="left:1.1px;top:48.8px;width:3.5px;height:1.2px;background:#d0212b;"></div><div style="left:7.1px;top:51.3px;width:7.0px;height:0.8px;background:#e8b8b8;"></div></div>
<div class="th" style="left:864.3px;top:351.9px;width:36.7px;height:43.5px;background:#fff;"><div style="left:5.3px;top:1.6px;width:26.9px;height:2.6px;background:#d0212b;"></div><div style="left:7.2px;top:6.6px;width:8.5px;height:1.0px;background:#444;"></div><div style="left:7.7px;top:10.1px;width:12.0px;height:0.8px;background:#ccc;"></div><div style="left:7.7px;top:12.1px;width:10.0px;height:0.8px;background:#ccc;"></div><div style="left:21.2px;top:6.6px;width:8.5px;height:1.0px;background:#444;"></div><div style="left:21.7px;top:9.1px;width:7.0px;height:0.8px;background:#ccc;"></div><div style="left:21.7px;top:11.6px;width:7.0px;height:0.8px;background:#ccc;"></div><div style="left:29.2px;top:9.1px;width:1.5px;height:1.5px;background:#2a6ac8;"></div><div style="left:29.2px;top:13.6px;width:1.5px;height:1.5px;background:#8a5a3c;"></div><div style="left:15.7px;top:17.6px;width:7.0px;height:0.9px;background:#444;"></div><div style="left:8.7px;top:21.1px;width:3.0px;height:2.0px;background:#8a5a3c;"></div><div style="left:17.7px;top:21.1px;width:3.0px;height:2.0px;background:#8a5a3c;"></div><div style="left:26.7px;top:20.6px;width:3.0px;height:2.5px;background:#e8a0a8;"></div><div style="left:7.7px;top:29.1px;width:3.0px;height:1.2px;background:#d0212b;"></div><div style="left:16.7px;top:29.1px;width:2.0px;height:11.0px;background:#eee;"></div><div style="left:22.7px;top:29.1px;width:2.0px;height:11.0px;background:#eee;"></div><div style="left:28.7px;top:29.1px;width:2.0px;height:11.0px;background:#eee;"></div></div>
<div class="th" style="left:861.7px;top:398.6px;width:45.3px;height:38.7px;background:#ececee;"><div style="left:15.7px;top:1.2px;width:13.9px;height:36.2px;background:#fff;"></div><div style="left:16.8px;top:3.9px;width:4.5px;height:1.2px;background:#d0212b;"></div><div style="left:17.3px;top:7.4px;width:7.0px;height:0.8px;background:#555;"></div><div style="left:17.3px;top:13.4px;width:9.0px;height:0.8px;background:#aaa;"></div><div style="left:19.8px;top:17.4px;width:5.5px;height:1.4px;background:#d0212b;"></div><div style="left:17.3px;top:21.9px;width:11.0px;height:0.8px;background:#777;"></div><div style="left:17.3px;top:23.9px;width:11.0px;height:0.8px;background:#777;"></div><div style="left:17.3px;top:25.9px;width:9.0px;height:0.8px;background:#777;"></div><div style="left:17.3px;top:29.9px;width:10.0px;height:1.0px;background:#2a6ac8;"></div><div style="left:26.3px;top:28.9px;width:2.5px;height:1.0px;background:#2a6ac8;"></div><div style="left:17.3px;top:33.4px;width:7.0px;height:0.8px;background:#2a6ac8;"></div><div style="left:9.3px;top:0.7px;width:2.0px;height:1.2px;background:#e05a3a;"></div><div style="left:0.3px;top:36.9px;width:4.0px;height:1.8px;background:#333;"></div></div>
<div class="th" style="left:927.2px;top:353.5px;width:46.6px;height:26.7px;background:#fff;"><div style="left:1.8px;top:0.9px;width:4.5px;height:1.0px;background:#d0212b;"></div><div style="left:15.8px;top:6.8px;width:13.0px;height:1.1px;background:#333;"></div><div style="left:4.8px;top:10.5px;width:15.0px;height:0.8px;background:#ddd;"></div><div style="left:4.8px;top:12.5px;width:14.0px;height:0.8px;background:#ddd;"></div><div style="left:4.8px;top:15.0px;width:15.0px;height:0.8px;background:#ddd;"></div><div style="left:4.8px;top:17.0px;width:10.0px;height:0.8px;background:#ddd;"></div><div style="left:23.8px;top:9.5px;width:15.0px;height:11.0px;background:#f7f7fa;"></div><div style="left:24.8px;top:14.5px;width:13.0px;height:1.0px;background:#cfe0f8;"></div><div style="left:28.6px;top:19.1px;width:6.7px;height:2.0px;background:#d0212b;"></div><div style="left:36.8px;top:1.1px;width:7.0px;height:0.7px;background:#ccc;"></div></div>
<div class="th" style="left:978.0px;top:354.0px;width:11.5px;height:26.2px;background:#fff;"><div style="left:1.2px;top:1.0px;width:3.5px;height:0.8px;background:#d0212b;"></div><div style="left:1.4px;top:3.0px;width:8.7px;height:20.2px;background-image:repeating-linear-gradient(180deg,rgba(0,0,0,0) 0,rgba(0,0,0,0) 1.6px,rgba(120,120,135,.16) 1.6px,rgba(120,120,135,.16) 2.2px,rgba(0,0,0,0) 2.2px,rgba(0,0,0,0) 3.4px);"></div><div style="left:1.7px;top:22.2px;width:4.0px;height:1.0px;background:#d0212b;"></div><div style="left:2.0px;top:5.0px;width:8.0px;height:1.0px;background:#333;"></div><div style="left:4.3px;top:19.7px;width:4.0px;height:1.2px;background:#d0212b;"></div></div>
<div class="th" style="left:927.9px;top:382.8px;width:45.9px;height:23.6px;background:#fff;"><div style="left:15.1px;top:2.8px;width:14.0px;height:1.2px;background:#333;"></div><div style="left:1.9px;top:5.8px;width:41.3px;height:1.6px;background:#d0212b;"></div><div style="left:4.1px;top:10.2px;width:17.0px;height:0.8px;background:#ddd;"></div><div style="left:4.1px;top:12.2px;width:16.0px;height:0.8px;background:#ddd;"></div><div style="left:4.1px;top:14.7px;width:17.0px;height:0.8px;background:#ddd;"></div><div style="left:4.1px;top:17.2px;width:10.0px;height:0.8px;background:#ddd;"></div><div style="left:24.1px;top:10.2px;width:17.0px;height:0.8px;background:#ccc;"></div><div style="left:24.1px;top:12.7px;width:8.0px;height:0.8px;background:#ccc;"></div><div style="left:24.1px;top:15.2px;width:6.0px;height:0.8px;background:#ccc;"></div><div style="left:28.9px;top:18.5px;width:7.7px;height:2.0px;background:#d0212b;"></div></div>
<div class="nt" style="left:88.3px;top:178.5px;width:7.5px;height:6.6px"></div>
<div class="nt" style="left:91.7px;top:188.0px;width:5.2px;height:11.3px"></div>
<div class="nt" style="left:91.7px;top:209.5px;width:5.2px;height:6.8px"></div>
<div class="nt" style="left:86.7px;top:225.7px;width:10.7px;height:11.3px"></div>
<div class="nt" style="left:88.3px;top:242.5px;width:8.2px;height:10.2px"></div>
<div class="nt" style="left:168.1px;top:224.1px;width:7.9px;height:7.9px"></div>
<div class="nt" style="left:143.3px;top:179.2px;width:7.1px;height:5.2px"></div>
<div class="nt" style="left:151.5px;top:181.7px;width:6.2px;height:2.7px"></div>
<div class="nt" style="left:104.2px;top:274.4px;width:6.7px;height:10.0px"></div>
<div class="nt" style="left:111.8px;top:275.5px;width:4.2px;height:4.2px"></div>
<div class="nt" style="left:128.5px;top:271.9px;width:5.1px;height:3.9px"></div>
<div class="nt" style="left:128.5px;top:301.5px;width:5.1px;height:3.7px"></div>
<div class="nt" style="left:140.3px;top:284.4px;width:4.8px;height:2.8px"></div>
<div class="nt" style="left:145.1px;top:273.7px;width:5.1px;height:3.5px"></div>
<div class="nt" style="left:186.0px;top:185.4px;width:8.3px;height:5.8px"></div>
<div class="nt" style="left:186.0px;top:193.4px;width:8.3px;height:7.2px"></div>
<div class="nt" style="left:186.0px;top:206.4px;width:6.9px;height:5.8px"></div>
<div class="nt" style="left:186.3px;top:223.8px;width:7.3px;height:5.1px"></div>
<div class="nt" style="left:186.3px;top:230.0px;width:5.8px;height:4.0px"></div>
<div class="nt" style="left:186.3px;top:237.3px;width:5.8px;height:6.1px"></div>
<div class="nt" style="left:185.6px;top:244.8px;width:6.5px;height:5.8px"></div>
<div class="nt" style="left:185.6px;top:252.8px;width:2.9px;height:3.6px"></div>
<div class="nt" style="left:221.1px;top:186.8px;width:7.0px;height:9.5px"></div>
<div class="nt" style="left:200.1px;top:201.3px;width:5.8px;height:2.9px"></div>
<div class="nt" style="left:244.0px;top:189.7px;width:5.0px;height:4.4px"></div>
<div class="nt" style="left:244.0px;top:196.3px;width:5.0px;height:5.7px"></div>
<div class="nt" style="left:245.8px;top:210.8px;width:7.2px;height:5.8px"></div>
<div class="nt" style="left:245.8px;top:230.3px;width:6.9px;height:13.1px"></div>
<div class="nt" style="left:246.5px;top:248.4px;width:6.5px;height:9.2px"></div>
<div class="nt" style="left:245.0px;top:263.4px;width:7.0px;height:9.6px"></div>
<div class="nt" style="left:248.2px;top:284.0px;width:6.7px;height:9.4px"></div>
<div class="nt" style="left:271.6px;top:295.9px;width:10.0px;height:4.1px"></div>
<div class="nt" style="left:279.0px;top:182.2px;width:7.4px;height:8.8px"></div>
<div class="nt" style="left:295.1px;top:210.0px;width:9.4px;height:6.8px"></div>
<div class="nt" style="left:308.1px;top:190.4px;width:6.5px;height:5.1px"></div>
<div class="nt" style="left:308.1px;top:198.5px;width:6.5px;height:5.7px"></div>
<div class="nt" style="left:309.7px;top:211.7px;width:5.5px;height:5.1px"></div>
<div class="nt" style="left:310.1px;top:235.1px;width:4.5px;height:5.7px"></div>
<div class="nt" style="left:326.8px;top:223.9px;width:3.7px;height:3.0px"></div>
<div class="nt" style="left:328.0px;top:190.4px;width:3.5px;height:3.7px"></div>
<div class="nt" style="left:328.0px;top:195.4px;width:3.5px;height:5.1px"></div>
<div class="nt" style="left:328.0px;top:202.1px;width:3.5px;height:5.5px"></div>
<div class="nt" style="left:328.0px;top:209.7px;width:3.5px;height:6.1px"></div>
<div class="nt" style="left:340.6px;top:203.6px;width:3.0px;height:3.0px"></div>
<div class="nt" style="left:369.0px;top:187.3px;width:4.1px;height:3.0px"></div>
<div class="nt" style="left:369.0px;top:193.4px;width:4.1px;height:4.1px"></div>
<div class="nt" style="left:369.0px;top:198.5px;width:4.1px;height:4.1px"></div>
<div class="nt" style="left:368.6px;top:204.6px;width:4.5px;height:4.1px"></div>
<div class="nt" style="left:384.3px;top:205.6px;width:3.5px;height:4.1px"></div>
<div class="nt" style="left:369.0px;top:228.0px;width:4.1px;height:3.0px"></div>
<div class="nt" style="left:368.6px;top:239.1px;width:4.5px;height:7.1px"></div>
<div class="nt" style="left:369.0px;top:258.4px;width:4.1px;height:3.5px"></div>
<div class="nt" style="left:383.7px;top:237.1px;width:3.7px;height:3.0px"></div>
<div class="nt" style="left:396.5px;top:192.4px;width:4.1px;height:3.0px"></div>
<div class="nt" style="left:410.7px;top:203.0px;width:4.1px;height:3.7px"></div>
<div class="nt" style="left:396.5px;top:211.7px;width:3.5px;height:4.1px"></div>
<div class="nt" style="left:395.9px;top:269.2px;width:3.3px;height:4.5px"></div>
<div class="nt" style="left:350.7px;top:187.3px;width:3.0px;height:4.1px"></div>
<div class="nt" style="left:341.0px;top:192.4px;width:2.6px;height:4.1px"></div>
<div class="nt" style="left:456.5px;top:188.3px;width:6.1px;height:11.8px"></div>
<div class="nt" style="left:473.2px;top:182.6px;width:6.7px;height:5.4px"></div>
<div class="nt" style="left:473.2px;top:189.5px;width:6.7px;height:5.5px"></div>
<div class="nt" style="left:473.2px;top:196.0px;width:6.7px;height:11.6px"></div>
<div class="nt" style="left:444.3px;top:219.8px;width:6.5px;height:6.7px"></div>
<div class="nt" style="left:526.6px;top:190.0px;width:7.1px;height:8.1px"></div>
<div class="nt" style="left:525.6px;top:198.9px;width:8.1px;height:5.7px"></div>
<div class="nt" style="left:525.2px;top:247.7px;width:6.9px;height:8.1px"></div>
<div class="nt" style="left:553.2px;top:185.5px;width:7.7px;height:6.2px"></div>
<div class="nt" style="left:574.8px;top:182.2px;width:5.9px;height:6.4px"></div>
<div class="nt" style="left:568.7px;top:192.5px;width:5.6px;height:4.3px"></div>
<div class="nt" style="left:589.2px;top:189.9px;width:5.7px;height:3.8px"></div>
<div class="nt" style="left:556.3px;top:204.0px;width:5.7px;height:4.7px"></div>
<div class="nt" style="left:581.5px;top:210.5px;width:6.2px;height:5.9px"></div>
<div class="nt" style="left:559.4px;top:226.7px;width:6.2px;height:5.7px"></div>
<div class="nt" style="left:559.4px;top:233.6px;width:6.2px;height:5.2px"></div>
<div class="nt" style="left:556.8px;top:255.0px;width:6.2px;height:4.4px"></div>
<div class="nt" style="left:638.1px;top:182.9px;width:5.7px;height:5.2px"></div>
<div class="nt" style="left:654.1px;top:184.0px;width:6.4px;height:5.9px"></div>
<div class="nt" style="left:621.2px;top:191.2px;width:6.7px;height:5.1px"></div>
<div class="nt" style="left:621.2px;top:198.4px;width:6.7px;height:5.1px"></div>
<div class="nt" style="left:621.2px;top:205.3px;width:6.7px;height:5.9px"></div>
<div class="nt" style="left:656.2px;top:196.8px;width:5.6px;height:4.2px"></div>
<div class="nt" style="left:624.5px;top:225.9px;width:6.5px;height:5.2px"></div>
<div class="nt" style="left:616.8px;top:256.8px;width:6.4px;height:3.9px"></div>
<div class="nt" style="left:617.6px;top:292.0px;width:5.1px;height:4.2px"></div>
<div class="nt" style="left:682.6px;top:181.2px;width:5.4px;height:5.1px"></div>
<div class="nt" style="left:684.7px;top:187.3px;width:5.3px;height:3.5px"></div>
<div class="nt" style="left:684.7px;top:192.0px;width:5.3px;height:6.1px"></div>
<div class="nt" style="left:684.3px;top:202.6px;width:5.3px;height:3.6px"></div>
<div class="nt" style="left:683.3px;top:212.8px;width:6.7px;height:5.0px"></div>
<div class="nt" style="left:710.7px;top:181.8px;width:5.7px;height:4.5px"></div>
<div class="nt" style="left:710.7px;top:188.0px;width:5.7px;height:4.0px"></div>
<div class="nt" style="left:747.3px;top:200.6px;width:5.7px;height:7.7px"></div>
<div class="nt" style="left:759.6px;top:181.2px;width:6.1px;height:5.1px"></div>
<div class="nt" style="left:759.2px;top:207.0px;width:5.4px;height:5.4px"></div>
<div class="nt" style="left:783.0px;top:211.1px;width:6.0px;height:5.7px"></div>
<div class="nt" style="left:759.2px;top:221.9px;width:4.8px;height:5.5px"></div>
<div class="nt" style="left:759.6px;top:231.5px;width:5.7px;height:8.1px"></div>
<div class="nt" style="left:759.6px;top:273.8px;width:6.1px;height:4.5px"></div>
<div class="nt" style="left:759.6px;top:288.0px;width:6.1px;height:4.5px"></div>
<div class="nt" style="left:812.0px;top:180.6px;width:6.1px;height:5.7px"></div>
<div class="nt" style="left:820.6px;top:191.4px;width:5.7px;height:5.5px"></div>
<div class="nt" style="left:800.6px;top:243.7px;width:5.7px;height:5.7px"></div>
<div class="nt" style="left:824.2px;top:239.2px;width:6.1px;height:5.7px"></div>
<div class="nt" style="left:876.5px;top:181.2px;width:8.1px;height:7.1px"></div>
<div class="nt" style="left:954.8px;top:183.3px;width:7.1px;height:6.7px"></div>
<div class="nt" style="left:958.4px;top:216.4px;width:7.6px;height:6.5px"></div>
<div class="nt" style="left:192.0px;top:358.4px;width:6.0px;height:3.6px"></div>
<div class="nt" style="left:192.0px;top:364.6px;width:6.0px;height:4.9px"></div>
<div class="nt" style="left:218.6px;top:356.9px;width:4.4px;height:2.8px"></div>
<div class="nt" style="left:219.7px;top:365.7px;width:5.6px;height:4.5px"></div>
<div class="nt" style="left:218.6px;top:371.7px;width:5.5px;height:3.6px"></div>
<div class="nt" style="left:217.0px;top:379.7px;width:5.4px;height:5.3px"></div>
<div class="nt" style="left:191.3px;top:402.8px;width:5.8px;height:5.7px"></div>
<div class="nt" style="left:219.3px;top:413.0px;width:6.0px;height:2.2px"></div>
<div class="nt" style="left:311.8px;top:357.5px;width:3.7px;height:3.8px"></div>
<div class="nt" style="left:311.1px;top:365.1px;width:5.8px;height:6.2px"></div>
<div class="nt" style="left:363.9px;top:348.0px;width:4.4px;height:5.1px"></div>
<div class="nt" style="left:366.1px;top:356.9px;width:4.0px;height:3.7px"></div>
<div class="nt" style="left:390.1px;top:362.0px;width:5.3px;height:5.3px"></div>
<div class="nt" style="left:390.1px;top:370.8px;width:5.3px;height:6.0px"></div>
<div class="nt" style="left:364.3px;top:379.0px;width:5.8px;height:6.0px"></div>
<div class="nt" style="left:389.4px;top:385.7px;width:5.6px;height:4.4px"></div>
<div class="nt" style="left:389.4px;top:392.3px;width:4.4px;height:4.5px"></div>
<div class="nt" style="left:446.0px;top:351.8px;width:6.6px;height:6.2px"></div>
<div class="nt" style="left:431.5px;top:363.5px;width:4.5px;height:4.5px"></div>
<div class="nt" style="left:432.2px;top:375.3px;width:4.4px;height:4.4px"></div>
<div class="nt" style="left:430.9px;top:382.8px;width:5.1px;height:8.0px"></div>
<div class="nt" style="left:430.9px;top:432.9px;width:5.1px;height:6.7px"></div>
<div class="nt" style="left:510.7px;top:358.0px;width:5.8px;height:7.1px"></div>
<div class="nt" style="left:490.3px;top:380.6px;width:5.6px;height:5.1px"></div>
<div class="nt" style="left:577.1px;top:356.7px;width:8.9px;height:7.3px"></div>
<div class="nt" style="left:691.5px;top:351.9px;width:7.9px;height:7.4px"></div>
<div class="nt" style="left:797.8px;top:353.5px;width:5.2px;height:5.3px"></div>
<div class="nt" style="left:862.5px;top:363.2px;width:6.5px;height:4.5px"></div>
<div class="nt" style="left:869.6px;top:417.4px;width:6.8px;height:6.0px"></div>
<div class="nt" style="left:954.9px;top:351.9px;width:7.1px;height:6.9px"></div>
<div class="bg" style="left:738.9px;top:189.8px;width:7.6px;height:7.6px">1</div>
<div class="bb" style="left:97.4px;top:174.1px;width:11.6px;height:8.3px"><b></b><i style="top:2.3px"></i><i style="top:5.2px"></i></div>
<div class="bb" style="left:111.9px;top:173.4px;width:11.7px;height:8.3px"><b></b><i style="top:2.3px"></i><i style="top:5.1px"></i></div>
<div class="bb" style="left:112.2px;top:194.9px;width:11.9px;height:7.9px"><b></b><i style="top:2.2px"></i><i style="top:4.9px"></i></div>
<div class="bb" style="left:123.2px;top:212.6px;width:11.9px;height:8.3px"><b></b><i style="top:2.3px"></i><i style="top:5.1px"></i></div>
<div class="bb" style="left:202.0px;top:181.3px;width:11.2px;height:8.0px"><b></b><i style="top:2.3px"></i><i style="top:5.0px"></i></div>
<div class="bb" style="left:214.6px;top:182.5px;width:8.0px;height:7.5px"><b></b><i style="top:2.1px"></i><i style="top:4.7px"></i></div>
<div class="bb" style="left:234.9px;top:176.7px;width:11.6px;height:6.7px"><b></b><i style="top:1.9px"></i><i style="top:4.1px"></i></div>
<div class="bb" style="left:234.9px;top:183.0px;width:11.6px;height:7.8px"><b></b><i style="top:2.2px"></i><i style="top:4.9px"></i></div>
<div class="bb" style="left:227.2px;top:210.3px;width:11.0px;height:7.9px"><b></b><i style="top:2.2px"></i><i style="top:4.9px"></i></div>
<div class="bb" style="left:199.1px;top:222.8px;width:11.2px;height:7.8px"><b></b><i style="top:2.2px"></i><i style="top:4.9px"></i></div>
<div class="bb" style="left:209.5px;top:231.0px;width:7.3px;height:6.8px"><b></b><i style="top:1.9px"></i><i style="top:4.2px"></i></div>
<div class="bb" style="left:193.6px;top:237.3px;width:10.9px;height:7.0px"><b></b><i style="top:2.0px"></i><i style="top:4.4px"></i></div>
<div class="bb" style="left:227.2px;top:233.9px;width:11.0px;height:8.3px"><b></b><i style="top:2.3px"></i><i style="top:5.2px"></i></div>
<div class="bb" style="left:189.2px;top:247.4px;width:10.9px;height:7.8px"><b></b><i style="top:2.2px"></i><i style="top:4.9px"></i></div>
<div class="bb" style="left:202.3px;top:247.7px;width:10.9px;height:7.5px"><b></b><i style="top:2.1px"></i><i style="top:4.7px"></i></div>
<div class="bb" style="left:194.4px;top:267.0px;width:11.3px;height:7.7px"><b></b><i style="top:2.2px"></i><i style="top:4.8px"></i></div>
<div class="bb" style="left:316.5px;top:188.0px;width:11.0px;height:8.3px"><b></b><i style="top:2.3px"></i><i style="top:5.2px"></i></div>
<div class="bb" style="left:311.1px;top:187.3px;width:11.7px;height:9.0px"><b></b><i style="top:2.5px"></i><i style="top:5.6px"></i></div>
<div class="bb" style="left:339.0px;top:180.6px;width:10.7px;height:8.7px"><b></b><i style="top:2.4px"></i><i style="top:5.4px"></i></div>
<div class="bb" style="left:343.6px;top:192.4px;width:11.6px;height:9.0px"><b></b><i style="top:2.5px"></i><i style="top:5.6px"></i></div>
<div class="bb" style="left:375.1px;top:196.5px;width:11.2px;height:8.9px"><b></b><i style="top:2.5px"></i><i style="top:5.5px"></i></div>
<div class="bb" style="left:399.5px;top:215.8px;width:11.2px;height:8.9px"><b></b><i style="top:2.5px"></i><i style="top:5.5px"></i></div>
<div class="bb" style="left:425.8px;top:177.2px;width:11.8px;height:9.5px"><b></b><i style="top:2.6px"></i><i style="top:5.9px"></i></div>
<div class="bb" style="left:461.0px;top:177.1px;width:12.2px;height:9.1px"><b></b><i style="top:2.5px"></i><i style="top:5.6px"></i></div>
<div class="bb" style="left:483.9px;top:178.6px;width:11.6px;height:8.6px"><b></b><i style="top:2.4px"></i><i style="top:5.3px"></i></div>
<div class="bb" style="left:628.9px;top:278.2px;width:12.9px;height:9.2px"><b></b><i style="top:2.6px"></i><i style="top:5.7px"></i></div>
<div class="bb" style="left:612.4px;top:305.0px;width:12.1px;height:9.0px"><b></b><i style="top:2.5px"></i><i style="top:5.6px"></i></div>
<div class="bb" style="left:730.0px;top:189.4px;width:12.3px;height:6.9px"><b></b><i style="top:1.9px"></i><i style="top:4.3px"></i></div>
<div class="bb" style="left:730.0px;top:196.0px;width:12.3px;height:7.0px"><b></b><i style="top:2.0px"></i><i style="top:4.4px"></i></div>
<div class="bb" style="left:755.9px;top:193.4px;width:11.8px;height:8.4px"><b></b><i style="top:2.4px"></i><i style="top:5.2px"></i></div>
<div class="bb" style="left:311.1px;top:401.9px;width:11.8px;height:8.2px"><b></b><i style="top:2.3px"></i><i style="top:5.1px"></i></div>
<div class="bb" style="left:482.6px;top:388.6px;width:11.7px;height:8.1px"><b></b><i style="top:2.3px"></i><i style="top:5.1px"></i></div>
<div class="bb" style="left:795.2px;top:395.4px;width:12.3px;height:9.8px"><b></b><i style="top:2.8px"></i><i style="top:6.1px"></i></div>
<div class="bg" style="left:106.3px;top:168.3px;width:8.0px;height:8.0px">1</div>
<div class="bg" style="left:120.1px;top:167.8px;width:8.0px;height:8.0px">1</div>
<div class="bg" style="left:120.7px;top:188.7px;width:8.0px;height:8.0px">1</div>
<div class="bg" style="left:131.9px;top:207.1px;width:8.0px;height:8.0px">1</div>
<div class="bg" style="left:210.6px;top:175.6px;width:8.0px;height:8.0px">1</div>
<div class="bg" style="left:219.6px;top:176.3px;width:8.0px;height:8.0px">1</div>
<div class="bg" style="left:243.5px;top:171.2px;width:8.0px;height:8.0px">1</div>
<div class="bg" style="left:243.5px;top:176.8px;width:8.0px;height:8.0px">1</div>
<div class="bg" style="left:235.2px;top:204.3px;width:8.0px;height:8.0px">1</div>
<div class="bg" style="left:207.7px;top:216.5px;width:8.0px;height:8.0px">1</div>
<div class="bg" style="left:210.5px;top:218.5px;width:8.0px;height:8.0px">1</div>
<div class="bg" style="left:213.5px;top:224.1px;width:8.0px;height:8.0px">1</div>
<div class="bg" style="left:201.9px;top:231.4px;width:8.0px;height:8.0px">1</div>
<div class="bg" style="left:235.2px;top:228.2px;width:8.0px;height:8.0px">1</div>
<div class="bg" style="left:215.0px;top:237.2px;width:8.0px;height:8.0px">1</div>
<div class="bg" style="left:197.6px;top:242.3px;width:8.0px;height:8.0px">2</div>
<div class="bg" style="left:209.9px;top:242.3px;width:8.0px;height:8.0px">1</div>
<div class="bg" style="left:202.9px;top:260.9px;width:8.0px;height:8.0px">1</div>
<div class="bg" style="left:324.0px;top:182.3px;width:8.0px;height:8.0px">1</div>
<div class="bg" style="left:319.3px;top:181.3px;width:8.0px;height:8.0px">2</div>
<div class="bg" style="left:347.2px;top:175.2px;width:8.0px;height:8.0px">1</div>
<div class="bg" style="left:352.4px;top:187.4px;width:8.0px;height:8.0px">2</div>
<div class="bg" style="left:383.3px;top:190.4px;width:8.0px;height:8.0px">1</div>
<div class="bg" style="left:408.1px;top:209.7px;width:8.0px;height:8.0px">1</div>
<div class="bg" style="left:434.9px;top:171.8px;width:8.0px;height:8.0px">1</div>
<div class="bg" style="left:469.8px;top:171.7px;width:8.0px;height:8.0px">1</div>
<div class="bg" style="left:492.1px;top:172.5px;width:8.0px;height:8.0px">1</div>
<div class="bg" style="left:637.8px;top:272.1px;width:8.0px;height:8.0px">1</div>
<div class="bg" style="left:621.3px;top:299.1px;width:8.0px;height:8.0px">1</div>
<div class="bg" style="left:738.9px;top:183.3px;width:8.0px;height:8.0px">1</div>
<div class="bg" style="left:764.1px;top:187.4px;width:8.0px;height:8.0px">3</div>
<div class="bg" style="left:319.5px;top:395.7px;width:8.0px;height:8.0px">1</div>
<div class="bg" style="left:491.2px;top:382.4px;width:8.0px;height:8.0px">1</div>
<div class="bg" style="left:804.3px;top:390.1px;width:8.0px;height:8.0px">2</div></div>
<!-- text -->
<div class="need" style="left:96.5px;top:125.4px">To come away with a positive<br>user experience and brand<br>affinity</div>
<div class="need" style="left:192.5px;top:125.4px">To quickly understand what product/service<br>options are available alongside a general<br>idea of pricing</div>
<div class="need" style="left:314px;top:125.4px">To quickly understand what product/service<br>options are available alongside a general<br>idea of pricing</div>
<div class="need" style="left:436px;top:125.4px">To quickly understand what product/service<br>options are available alongside an estimate<br>of pricing, while adjusting inputs of estimate<br>if necessary</div>
<div class="need" style="left:558.5px;top:125.4px">To see options most fitting to needs and<br>easily adjust those options based on further<br>determination</div>
<div class="need" style="left:680px;top:125.4px">To take care of more tedious aspects of<br>process with ease after problem-solving for<br>major decision</div>
<div class="need" style="left:804px;top:125.4px">To have a predictable, efficient check out<br>experience</div>
<div class="opp" style="left:92.4px;top:499.9px">Guide user and provide support as<br>needed<br><br>Focus user interactions<br><br>Create consistent, predictable patterns<br>in design<br><br>Reconsider if aligning with moving is<br>the best strategy to carry through<br>experience vs focus on product and<br>how it can help the user in a multitude<br>of ways<br><br>Explore different options for navigation<br>from mega menu to utility nav. Add<br>search &amp; language<br><br>Reconsider legacy elements and design<br>system decisions such as multi-<br>selectors</div>
<div class="opp" style="left:195.2px;top:499.9px">Make intentional use of hero content alongside<br>quote tool above-the-fold<br><br>Bring intentionality to mobile in selection space,<br>field input box choice, hero content, etc.<br><br>Consider translations usually add 30% more<br>length in character account<br><br>Reconsider broad use of red for CTAs, hyperlinks,<br>banners, branding to be more specific and<br>intentional<br><br>Evaluate spacing between containers, headlines<br>and subheads, and other elements<br><br>User engagement decreases<br><br>Reconsider best placement of visited or desirable<br>content which currently sits hidden in footer,<br>hyperlinks, etc</div>
<div class="opp" style="left:318.7px;top:499.9px">Reconsider redirecting of one user group to<br>separate page<br><br>Consider how to offer user ability to quickly<br>compare options or quote estimates<br><br>Consider introducing different templates for<br>sections to address redundancy in design<br>pattern and lack of visual context and variability<br><br>Reevaluate moving and storage tools for user<br>experience and adaptability across mobile<br><br>Prioritize most directly related content to<br>category, such as container-size specific<br>information to</div>
<div class="opp" style="left:442px;top:501.5px">Default key information to show an estimate<br>from the start<br><br>Explore layout of quote form<br><br>Adapt quote tool to both key user groups<br><br>Consider needs of user and what questions<br>they would ask themselves when beginning<br>the process<br><br>Surface key elements of useful information<br><br>Offer indicators of place in and number of<br>steps in process<br><br>Offer limited testimonials with more context<br>about customer and place intentionally within<br>page</div>
<div class="opp" style="left:559.4px;top:499.9px">Offer progressive disclosure<br><br>Design more efficient use of space and group<br>like elements<br><br>Offer contextual guidance to user<br><br>Surface directly useful content from expanded<br>container. Increase scannability of collapsed<br><br>Default any information based on earlier choices<br><br>Remove multiple CTAs in close proximity<br>competing for user’s attention<br><br>Consider how commercial experience may<br>require different questions or options<br><br>Surface additional product costs and benefits<br><br>Reconsider best place in journey for introducing<br>third-party services</div>
<div class="opp" style="left:683.5px;top:499.9px">Design more efficient use of space<br><br>Group like elements by creating collapsible<br>containers of related information vs a<br>container &amp; continue button for each individual<br>step<br><br>Default any information the user can input<br>based on earlier choices<br><br>Allow user opportunity to edit key pieces of<br>info. from earlier steps with quick redirect or<br>editing within quote summary<br><br>Give user clear understanding of where they<br>are in quote process and expand related<br>section in summary accordingly<br><br>Discover key use cases for delivery and<br>scheduling of containers and how it may<br>different between residential &amp; commercial<br>customers</div>
<div class="opp" style="left:803.2px;top:499.9px">Clarify value proposition for user regarding<br>reserving now and paying later by surfacing<br>benefit<br><br>Consolidate repetitive descriptions within quote<br><br>Offer one intentional location for user to focus<br>on key quote details, vs having multiple options<br>leading to possible confusion<br><br>Reconsider need for user to create an account<br>vs guest checkout<br><br>Surface key next step within confirmation page<br>and email</div>
<div class="opp" style="left:923.9px;top:499.9px">General opportunity to consider and tie in the<br>full user journey past checkout to realization of<br>product delivery and further servicing<br><br>Possibility of allowing the user to login straight<br>from the homepage or other key landing pages<br>without being redirected<br><br>Allow for greater self-servicing when user needs<br>to<br><br>Call out key next steps including further<br>scheduling for user</div>
</div>
</body></html>
